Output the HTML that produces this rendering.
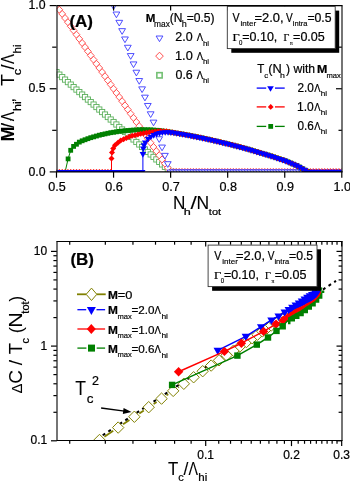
<!DOCTYPE html>
<html><head><meta charset="utf-8"><style>
html,body{margin:0;padding:0;background:#fff;}
body{width:350px;height:481px;position:relative;overflow:hidden;font-family:"Liberation Sans",sans-serif;}
text{font-kerning:none;stroke:#000;stroke-width:0.22px;}
svg{will-change:transform;}
</style></head><body>
<svg width="350" height="481" viewBox="0 0 350 481" style="position:absolute;left:0;top:0">
<defs>
<clipPath id="clipA"><rect x="56.5" y="5.6" width="285.3" height="166.3"/></clipPath>
<clipPath id="clipB"><rect x="56.8" y="241.5" width="285.2" height="199.1"/></clipPath>
</defs>
<g clip-path="url(#clipA)">
<rect x="53.9" y="69.52" width="5.2" height="5.2" fill="#fff" stroke="#5cb05c" stroke-width="0.9"/>
<rect x="56.75" y="72.01" width="5.2" height="5.2" fill="#fff" stroke="#5cb05c" stroke-width="0.9"/>
<rect x="59.61" y="74.51" width="5.2" height="5.2" fill="#fff" stroke="#5cb05c" stroke-width="0.9"/>
<rect x="62.46" y="77" width="5.2" height="5.2" fill="#fff" stroke="#5cb05c" stroke-width="0.9"/>
<rect x="65.31" y="79.5" width="5.2" height="5.2" fill="#fff" stroke="#5cb05c" stroke-width="0.9"/>
<rect x="68.17" y="81.99" width="5.2" height="5.2" fill="#fff" stroke="#5cb05c" stroke-width="0.9"/>
<rect x="71.02" y="84.49" width="5.2" height="5.2" fill="#fff" stroke="#5cb05c" stroke-width="0.9"/>
<rect x="73.87" y="86.98" width="5.2" height="5.2" fill="#fff" stroke="#5cb05c" stroke-width="0.9"/>
<rect x="76.72" y="89.48" width="5.2" height="5.2" fill="#fff" stroke="#5cb05c" stroke-width="0.9"/>
<rect x="79.58" y="91.97" width="5.2" height="5.2" fill="#fff" stroke="#5cb05c" stroke-width="0.9"/>
<rect x="82.43" y="94.47" width="5.2" height="5.2" fill="#fff" stroke="#5cb05c" stroke-width="0.9"/>
<rect x="85.28" y="96.96" width="5.2" height="5.2" fill="#fff" stroke="#5cb05c" stroke-width="0.9"/>
<rect x="88.14" y="99.45" width="5.2" height="5.2" fill="#fff" stroke="#5cb05c" stroke-width="0.9"/>
<rect x="90.99" y="101.95" width="5.2" height="5.2" fill="#fff" stroke="#5cb05c" stroke-width="0.9"/>
<rect x="93.84" y="104.44" width="5.2" height="5.2" fill="#fff" stroke="#5cb05c" stroke-width="0.9"/>
<rect x="96.69" y="106.94" width="5.2" height="5.2" fill="#fff" stroke="#5cb05c" stroke-width="0.9"/>
<rect x="99.55" y="109.43" width="5.2" height="5.2" fill="#fff" stroke="#5cb05c" stroke-width="0.9"/>
<rect x="102.4" y="111.93" width="5.2" height="5.2" fill="#fff" stroke="#5cb05c" stroke-width="0.9"/>
<rect x="105.25" y="114.42" width="5.2" height="5.2" fill="#fff" stroke="#5cb05c" stroke-width="0.9"/>
<rect x="108.11" y="116.92" width="5.2" height="5.2" fill="#fff" stroke="#5cb05c" stroke-width="0.9"/>
<rect x="110.96" y="119.41" width="5.2" height="5.2" fill="#fff" stroke="#5cb05c" stroke-width="0.9"/>
<rect x="113.81" y="121.9" width="5.2" height="5.2" fill="#fff" stroke="#5cb05c" stroke-width="0.9"/>
<rect x="116.67" y="124.4" width="5.2" height="5.2" fill="#fff" stroke="#5cb05c" stroke-width="0.9"/>
<rect x="119.52" y="126.89" width="5.2" height="5.2" fill="#fff" stroke="#5cb05c" stroke-width="0.9"/>
<rect x="122.37" y="129.39" width="5.2" height="5.2" fill="#fff" stroke="#5cb05c" stroke-width="0.9"/>
<rect x="125.23" y="131.88" width="5.2" height="5.2" fill="#fff" stroke="#5cb05c" stroke-width="0.9"/>
<rect x="128.08" y="134.38" width="5.2" height="5.2" fill="#fff" stroke="#5cb05c" stroke-width="0.9"/>
<rect x="130.93" y="136.87" width="5.2" height="5.2" fill="#fff" stroke="#5cb05c" stroke-width="0.9"/>
<rect x="133.78" y="139.37" width="5.2" height="5.2" fill="#fff" stroke="#5cb05c" stroke-width="0.9"/>
<rect x="136.64" y="141.86" width="5.2" height="5.2" fill="#fff" stroke="#5cb05c" stroke-width="0.9"/>
<rect x="139.49" y="144.36" width="5.2" height="5.2" fill="#fff" stroke="#5cb05c" stroke-width="0.9"/>
<rect x="142.34" y="146.85" width="5.2" height="5.2" fill="#fff" stroke="#5cb05c" stroke-width="0.9"/>
<rect x="145.2" y="149.34" width="5.2" height="5.2" fill="#fff" stroke="#5cb05c" stroke-width="0.9"/>
<rect x="148.05" y="151.84" width="5.2" height="5.2" fill="#fff" stroke="#5cb05c" stroke-width="0.9"/>
<rect x="150.9" y="154.33" width="5.2" height="5.2" fill="#fff" stroke="#5cb05c" stroke-width="0.9"/>
<rect x="153.76" y="156.83" width="5.2" height="5.2" fill="#fff" stroke="#5cb05c" stroke-width="0.9"/>
<rect x="156.61" y="159.32" width="5.2" height="5.2" fill="#fff" stroke="#5cb05c" stroke-width="0.9"/>
<rect x="159.46" y="161.82" width="5.2" height="5.2" fill="#fff" stroke="#5cb05c" stroke-width="0.9"/>
<rect x="162.31" y="164.31" width="5.2" height="5.2" fill="#fff" stroke="#5cb05c" stroke-width="0.9"/>
<rect x="165.17" y="166.81" width="5.2" height="5.2" fill="#fff" stroke="#5cb05c" stroke-width="0.9"/>
<rect x="168.02" y="169.3" width="5.2" height="5.2" fill="#fff" stroke="#5cb05c" stroke-width="0.9"/>
<rect x="170.87" y="169.3" width="5.2" height="5.2" fill="#fff" stroke="#5cb05c" stroke-width="0.9"/>
<polygon points="56.5,2.1 59.9,5.6 56.5,9.1 53.1,5.6" fill="#fff" stroke="#ff3a3a" stroke-width="0.85"/>
<polygon points="59.35,6.26 62.75,9.76 59.35,13.26 55.95,9.76" fill="#fff" stroke="#ff3a3a" stroke-width="0.85"/>
<polygon points="62.21,10.42 65.61,13.92 62.21,17.42 58.81,13.92" fill="#fff" stroke="#ff3a3a" stroke-width="0.85"/>
<polygon points="65.06,14.57 68.46,18.07 65.06,21.57 61.66,18.07" fill="#fff" stroke="#ff3a3a" stroke-width="0.85"/>
<polygon points="67.91,18.73 71.31,22.23 67.91,25.73 64.51,22.23" fill="#fff" stroke="#ff3a3a" stroke-width="0.85"/>
<polygon points="70.77,22.89 74.17,26.39 70.77,29.89 67.37,26.39" fill="#fff" stroke="#ff3a3a" stroke-width="0.85"/>
<polygon points="73.62,27.05 77.02,30.55 73.62,34.05 70.22,30.55" fill="#fff" stroke="#ff3a3a" stroke-width="0.85"/>
<polygon points="76.47,31.2 79.87,34.7 76.47,38.2 73.07,34.7" fill="#fff" stroke="#ff3a3a" stroke-width="0.85"/>
<polygon points="79.32,35.36 82.72,38.86 79.32,42.36 75.92,38.86" fill="#fff" stroke="#ff3a3a" stroke-width="0.85"/>
<polygon points="82.18,39.52 85.58,43.02 82.18,46.52 78.78,43.02" fill="#fff" stroke="#ff3a3a" stroke-width="0.85"/>
<polygon points="85.03,43.68 88.43,47.18 85.03,50.68 81.63,47.18" fill="#fff" stroke="#ff3a3a" stroke-width="0.85"/>
<polygon points="87.88,47.83 91.28,51.33 87.88,54.83 84.48,51.33" fill="#fff" stroke="#ff3a3a" stroke-width="0.85"/>
<polygon points="90.74,51.99 94.14,55.49 90.74,58.99 87.34,55.49" fill="#fff" stroke="#ff3a3a" stroke-width="0.85"/>
<polygon points="93.59,56.15 96.99,59.65 93.59,63.15 90.19,59.65" fill="#fff" stroke="#ff3a3a" stroke-width="0.85"/>
<polygon points="96.44,60.3 99.84,63.8 96.44,67.3 93.04,63.8" fill="#fff" stroke="#ff3a3a" stroke-width="0.85"/>
<polygon points="99.29,64.46 102.69,67.96 99.29,71.46 95.89,67.96" fill="#fff" stroke="#ff3a3a" stroke-width="0.85"/>
<polygon points="102.15,68.62 105.55,72.12 102.15,75.62 98.75,72.12" fill="#fff" stroke="#ff3a3a" stroke-width="0.85"/>
<polygon points="105,72.78 108.4,76.28 105,79.78 101.6,76.28" fill="#fff" stroke="#ff3a3a" stroke-width="0.85"/>
<polygon points="107.85,76.94 111.25,80.44 107.85,83.94 104.45,80.44" fill="#fff" stroke="#ff3a3a" stroke-width="0.85"/>
<polygon points="110.71,81.09 114.11,84.59 110.71,88.09 107.31,84.59" fill="#fff" stroke="#ff3a3a" stroke-width="0.85"/>
<polygon points="113.56,85.25 116.96,88.75 113.56,92.25 110.16,88.75" fill="#fff" stroke="#ff3a3a" stroke-width="0.85"/>
<polygon points="116.41,89.41 119.81,92.91 116.41,96.41 113.01,92.91" fill="#fff" stroke="#ff3a3a" stroke-width="0.85"/>
<polygon points="119.27,93.57 122.67,97.07 119.27,100.57 115.87,97.07" fill="#fff" stroke="#ff3a3a" stroke-width="0.85"/>
<polygon points="122.12,97.72 125.52,101.22 122.12,104.72 118.72,101.22" fill="#fff" stroke="#ff3a3a" stroke-width="0.85"/>
<polygon points="124.97,101.88 128.37,105.38 124.97,108.88 121.57,105.38" fill="#fff" stroke="#ff3a3a" stroke-width="0.85"/>
<polygon points="127.83,106.04 131.22,109.54 127.83,113.04 124.42,109.54" fill="#fff" stroke="#ff3a3a" stroke-width="0.85"/>
<polygon points="130.68,110.2 134.08,113.7 130.68,117.2 127.28,113.7" fill="#fff" stroke="#ff3a3a" stroke-width="0.85"/>
<polygon points="133.53,114.35 136.93,117.85 133.53,121.35 130.13,117.85" fill="#fff" stroke="#ff3a3a" stroke-width="0.85"/>
<polygon points="136.38,118.51 139.78,122.01 136.38,125.51 132.98,122.01" fill="#fff" stroke="#ff3a3a" stroke-width="0.85"/>
<polygon points="139.24,122.67 142.64,126.17 139.24,129.67 135.84,126.17" fill="#fff" stroke="#ff3a3a" stroke-width="0.85"/>
<polygon points="142.09,126.83 145.49,130.33 142.09,133.83 138.69,130.33" fill="#fff" stroke="#ff3a3a" stroke-width="0.85"/>
<polygon points="144.94,130.98 148.34,134.48 144.94,137.98 141.54,134.48" fill="#fff" stroke="#ff3a3a" stroke-width="0.85"/>
<polygon points="147.8,135.14 151.2,138.64 147.8,142.14 144.4,138.64" fill="#fff" stroke="#ff3a3a" stroke-width="0.85"/>
<polygon points="150.65,139.3 154.05,142.8 150.65,146.3 147.25,142.8" fill="#fff" stroke="#ff3a3a" stroke-width="0.85"/>
<polygon points="153.5,143.46 156.9,146.96 153.5,150.46 150.1,146.96" fill="#fff" stroke="#ff3a3a" stroke-width="0.85"/>
<polygon points="156.36,147.61 159.76,151.11 156.36,154.61 152.96,151.11" fill="#fff" stroke="#ff3a3a" stroke-width="0.85"/>
<polygon points="159.21,151.77 162.61,155.27 159.21,158.77 155.81,155.27" fill="#fff" stroke="#ff3a3a" stroke-width="0.85"/>
<polygon points="162.06,155.93 165.46,159.43 162.06,162.93 158.66,159.43" fill="#fff" stroke="#ff3a3a" stroke-width="0.85"/>
<polygon points="164.91,160.09 168.31,163.59 164.91,167.09 161.51,163.59" fill="#fff" stroke="#ff3a3a" stroke-width="0.85"/>
<polygon points="167.77,164.24 171.17,167.74 167.77,171.24 164.37,167.74" fill="#fff" stroke="#ff3a3a" stroke-width="0.85"/>
<polygon points="170.62,168.4 174.02,171.9 170.62,175.4 167.22,171.9" fill="#fff" stroke="#ff3a3a" stroke-width="0.85"/>
<polygon points="173.47,168.4 176.87,171.9 173.47,175.4 170.07,171.9" fill="#fff" stroke="#ff3a3a" stroke-width="0.85"/>
<polygon points="176.33,168.4 179.73,171.9 176.33,175.4 172.93,171.9" fill="#fff" stroke="#ff3a3a" stroke-width="0.85"/>
<polygon points="179.18,168.4 182.58,171.9 179.18,175.4 175.78,171.9" fill="#fff" stroke="#ff3a3a" stroke-width="0.85"/>
<polygon points="182.03,168.4 185.43,171.9 182.03,175.4 178.63,171.9" fill="#fff" stroke="#ff3a3a" stroke-width="0.85"/>
<polygon points="184.88,168.4 188.28,171.9 184.88,175.4 181.48,171.9" fill="#fff" stroke="#ff3a3a" stroke-width="0.85"/>
<polygon points="187.74,168.4 191.14,171.9 187.74,175.4 184.34,171.9" fill="#fff" stroke="#ff3a3a" stroke-width="0.85"/>
<polygon points="190.59,168.4 193.99,171.9 190.59,175.4 187.19,171.9" fill="#fff" stroke="#ff3a3a" stroke-width="0.85"/>
<polygon points="193.44,168.4 196.84,171.9 193.44,175.4 190.04,171.9" fill="#fff" stroke="#ff3a3a" stroke-width="0.85"/>
<polygon points="196.3,168.4 199.7,171.9 196.3,175.4 192.9,171.9" fill="#fff" stroke="#ff3a3a" stroke-width="0.85"/>
<polygon points="199.15,168.4 202.55,171.9 199.15,175.4 195.75,171.9" fill="#fff" stroke="#ff3a3a" stroke-width="0.85"/>
<polygon points="202,168.4 205.4,171.9 202,175.4 198.6,171.9" fill="#fff" stroke="#ff3a3a" stroke-width="0.85"/>
<polygon points="204.86,168.4 208.26,171.9 204.86,175.4 201.46,171.9" fill="#fff" stroke="#ff3a3a" stroke-width="0.85"/>
<polygon points="207.71,168.4 211.11,171.9 207.71,175.4 204.31,171.9" fill="#fff" stroke="#ff3a3a" stroke-width="0.85"/>
<polygon points="210.56,168.4 213.96,171.9 210.56,175.4 207.16,171.9" fill="#fff" stroke="#ff3a3a" stroke-width="0.85"/>
<polygon points="213.42,168.4 216.82,171.9 213.42,175.4 210.02,171.9" fill="#fff" stroke="#ff3a3a" stroke-width="0.85"/>
<polygon points="216.27,168.4 219.67,171.9 216.27,175.4 212.87,171.9" fill="#fff" stroke="#ff3a3a" stroke-width="0.85"/>
<polygon points="219.12,168.4 222.52,171.9 219.12,175.4 215.72,171.9" fill="#fff" stroke="#ff3a3a" stroke-width="0.85"/>
<polygon points="221.97,168.4 225.37,171.9 221.97,175.4 218.57,171.9" fill="#fff" stroke="#ff3a3a" stroke-width="0.85"/>
<polygon points="224.83,168.4 228.23,171.9 224.83,175.4 221.43,171.9" fill="#fff" stroke="#ff3a3a" stroke-width="0.85"/>
<polygon points="227.68,168.4 231.08,171.9 227.68,175.4 224.28,171.9" fill="#fff" stroke="#ff3a3a" stroke-width="0.85"/>
<polygon points="230.53,168.4 233.93,171.9 230.53,175.4 227.13,171.9" fill="#fff" stroke="#ff3a3a" stroke-width="0.85"/>
<polygon points="233.39,168.4 236.79,171.9 233.39,175.4 229.99,171.9" fill="#fff" stroke="#ff3a3a" stroke-width="0.85"/>
<polygon points="236.24,168.4 239.64,171.9 236.24,175.4 232.84,171.9" fill="#fff" stroke="#ff3a3a" stroke-width="0.85"/>
<polygon points="239.09,168.4 242.49,171.9 239.09,175.4 235.69,171.9" fill="#fff" stroke="#ff3a3a" stroke-width="0.85"/>
<polygon points="241.94,168.4 245.34,171.9 241.94,175.4 238.54,171.9" fill="#fff" stroke="#ff3a3a" stroke-width="0.85"/>
<polygon points="244.8,168.4 248.2,171.9 244.8,175.4 241.4,171.9" fill="#fff" stroke="#ff3a3a" stroke-width="0.85"/>
<polygon points="247.65,168.4 251.05,171.9 247.65,175.4 244.25,171.9" fill="#fff" stroke="#ff3a3a" stroke-width="0.85"/>
<polygon points="250.5,168.4 253.9,171.9 250.5,175.4 247.1,171.9" fill="#fff" stroke="#ff3a3a" stroke-width="0.85"/>
<polygon points="253.36,168.4 256.76,171.9 253.36,175.4 249.96,171.9" fill="#fff" stroke="#ff3a3a" stroke-width="0.85"/>
<polygon points="256.21,168.4 259.61,171.9 256.21,175.4 252.81,171.9" fill="#fff" stroke="#ff3a3a" stroke-width="0.85"/>
<polygon points="259.06,168.4 262.46,171.9 259.06,175.4 255.66,171.9" fill="#fff" stroke="#ff3a3a" stroke-width="0.85"/>
<polygon points="261.92,168.4 265.32,171.9 261.92,175.4 258.52,171.9" fill="#fff" stroke="#ff3a3a" stroke-width="0.85"/>
<polygon points="264.77,168.4 268.17,171.9 264.77,175.4 261.37,171.9" fill="#fff" stroke="#ff3a3a" stroke-width="0.85"/>
<polygon points="267.62,168.4 271.02,171.9 267.62,175.4 264.22,171.9" fill="#fff" stroke="#ff3a3a" stroke-width="0.85"/>
<polygon points="270.48,168.4 273.88,171.9 270.48,175.4 267.08,171.9" fill="#fff" stroke="#ff3a3a" stroke-width="0.85"/>
<polygon points="273.33,168.4 276.73,171.9 273.33,175.4 269.93,171.9" fill="#fff" stroke="#ff3a3a" stroke-width="0.85"/>
<polygon points="276.18,168.4 279.58,171.9 276.18,175.4 272.78,171.9" fill="#fff" stroke="#ff3a3a" stroke-width="0.85"/>
<polygon points="279.03,168.4 282.43,171.9 279.03,175.4 275.63,171.9" fill="#fff" stroke="#ff3a3a" stroke-width="0.85"/>
<polygon points="281.89,168.4 285.29,171.9 281.89,175.4 278.49,171.9" fill="#fff" stroke="#ff3a3a" stroke-width="0.85"/>
<polygon points="284.74,168.4 288.14,171.9 284.74,175.4 281.34,171.9" fill="#fff" stroke="#ff3a3a" stroke-width="0.85"/>
<polygon points="287.59,168.4 290.99,171.9 287.59,175.4 284.19,171.9" fill="#fff" stroke="#ff3a3a" stroke-width="0.85"/>
<polygon points="290.45,168.4 293.85,171.9 290.45,175.4 287.05,171.9" fill="#fff" stroke="#ff3a3a" stroke-width="0.85"/>
<polygon points="293.3,168.4 296.7,171.9 293.3,175.4 289.9,171.9" fill="#fff" stroke="#ff3a3a" stroke-width="0.85"/>
<polygon points="296.15,168.4 299.55,171.9 296.15,175.4 292.75,171.9" fill="#fff" stroke="#ff3a3a" stroke-width="0.85"/>
<polygon points="299,168.4 302.4,171.9 299,175.4 295.61,171.9" fill="#fff" stroke="#ff3a3a" stroke-width="0.85"/>
<polygon points="301.86,168.4 305.26,171.9 301.86,175.4 298.46,171.9" fill="#fff" stroke="#ff3a3a" stroke-width="0.85"/>
<polygon points="304.71,168.4 308.11,171.9 304.71,175.4 301.31,171.9" fill="#fff" stroke="#ff3a3a" stroke-width="0.85"/>
<polygon points="307.56,168.4 310.96,171.9 307.56,175.4 304.16,171.9" fill="#fff" stroke="#ff3a3a" stroke-width="0.85"/>
<polygon points="310.42,168.4 313.82,171.9 310.42,175.4 307.02,171.9" fill="#fff" stroke="#ff3a3a" stroke-width="0.85"/>
<polygon points="313.27,168.4 316.67,171.9 313.27,175.4 309.87,171.9" fill="#fff" stroke="#ff3a3a" stroke-width="0.85"/>
<polygon points="316.12,168.4 319.52,171.9 316.12,175.4 312.72,171.9" fill="#fff" stroke="#ff3a3a" stroke-width="0.85"/>
<polygon points="318.98,168.4 322.38,171.9 318.98,175.4 315.58,171.9" fill="#fff" stroke="#ff3a3a" stroke-width="0.85"/>
<polygon points="321.83,168.4 325.23,171.9 321.83,175.4 318.43,171.9" fill="#fff" stroke="#ff3a3a" stroke-width="0.85"/>
<polygon points="324.68,168.4 328.08,171.9 324.68,175.4 321.28,171.9" fill="#fff" stroke="#ff3a3a" stroke-width="0.85"/>
<polygon points="327.54,168.4 330.94,171.9 327.54,175.4 324.14,171.9" fill="#fff" stroke="#ff3a3a" stroke-width="0.85"/>
<polygon points="330.39,168.4 333.79,171.9 330.39,175.4 326.99,171.9" fill="#fff" stroke="#ff3a3a" stroke-width="0.85"/>
<polygon points="333.24,168.4 336.64,171.9 333.24,175.4 329.84,171.9" fill="#fff" stroke="#ff3a3a" stroke-width="0.85"/>
<polygon points="336.09,168.4 339.49,171.9 336.09,175.4 332.69,171.9" fill="#fff" stroke="#ff3a3a" stroke-width="0.85"/>
<polygon points="338.95,168.4 342.35,171.9 338.95,175.4 335.55,171.9" fill="#fff" stroke="#ff3a3a" stroke-width="0.85"/>
<polygon points="341.8,168.4 345.2,171.9 341.8,175.4 338.4,171.9" fill="#fff" stroke="#ff3a3a" stroke-width="0.85"/>
<polygon points="110.16,3.7 116.96,3.7 113.56,9.4" fill="#fff" stroke="#3a3aff" stroke-width="0.9"/>
<polygon points="113.01,12.02 119.81,12.02 116.41,17.72" fill="#fff" stroke="#3a3aff" stroke-width="0.9"/>
<polygon points="115.87,20.33 122.67,20.33 119.27,26.03" fill="#fff" stroke="#3a3aff" stroke-width="0.9"/>
<polygon points="118.72,28.65 125.52,28.65 122.12,34.35" fill="#fff" stroke="#3a3aff" stroke-width="0.9"/>
<polygon points="121.57,36.96 128.37,36.96 124.97,42.66" fill="#fff" stroke="#3a3aff" stroke-width="0.9"/>
<polygon points="124.42,45.28 131.22,45.28 127.83,50.98" fill="#fff" stroke="#3a3aff" stroke-width="0.9"/>
<polygon points="127.28,53.59 134.08,53.59 130.68,59.29" fill="#fff" stroke="#3a3aff" stroke-width="0.9"/>
<polygon points="130.13,61.91 136.93,61.91 133.53,67.61" fill="#fff" stroke="#3a3aff" stroke-width="0.9"/>
<polygon points="132.98,70.22 139.78,70.22 136.38,75.92" fill="#fff" stroke="#3a3aff" stroke-width="0.9"/>
<polygon points="135.84,78.54 142.64,78.54 139.24,84.24" fill="#fff" stroke="#3a3aff" stroke-width="0.9"/>
<polygon points="138.69,86.85 145.49,86.85 142.09,92.55" fill="#fff" stroke="#3a3aff" stroke-width="0.9"/>
<polygon points="141.54,95.17 148.34,95.17 144.94,100.87" fill="#fff" stroke="#3a3aff" stroke-width="0.9"/>
<polygon points="144.4,103.48 151.2,103.48 147.8,109.18" fill="#fff" stroke="#3a3aff" stroke-width="0.9"/>
<polygon points="147.25,111.8 154.05,111.8 150.65,117.5" fill="#fff" stroke="#3a3aff" stroke-width="0.9"/>
<polygon points="150.1,120.11 156.9,120.11 153.5,125.81" fill="#fff" stroke="#3a3aff" stroke-width="0.9"/>
<polygon points="152.96,128.43 159.76,128.43 156.36,134.13" fill="#fff" stroke="#3a3aff" stroke-width="0.9"/>
<polygon points="155.81,136.74 162.61,136.74 159.21,142.44" fill="#fff" stroke="#3a3aff" stroke-width="0.9"/>
<polygon points="158.66,145.06 165.46,145.06 162.06,150.76" fill="#fff" stroke="#3a3aff" stroke-width="0.9"/>
<polygon points="161.51,153.37 168.31,153.37 164.91,159.07" fill="#fff" stroke="#3a3aff" stroke-width="0.9"/>
<polygon points="164.37,161.69 171.17,161.69 167.77,167.39" fill="#fff" stroke="#3a3aff" stroke-width="0.9"/>
<polygon points="167.22,170 174.02,170 170.62,175.7" fill="#fff" stroke="#3a3aff" stroke-width="0.9"/>
<polygon points="170.07,170 176.87,170 173.47,175.7" fill="#fff" stroke="#3a3aff" stroke-width="0.9"/>
<polygon points="172.93,170 179.73,170 176.33,175.7" fill="#fff" stroke="#3a3aff" stroke-width="0.9"/>
<polygon points="175.78,170 182.58,170 179.18,175.7" fill="#fff" stroke="#3a3aff" stroke-width="0.9"/>
<polygon points="178.63,170 185.43,170 182.03,175.7" fill="#fff" stroke="#3a3aff" stroke-width="0.9"/>
<polygon points="181.48,170 188.28,170 184.88,175.7" fill="#fff" stroke="#3a3aff" stroke-width="0.9"/>
<polygon points="184.34,170 191.14,170 187.74,175.7" fill="#fff" stroke="#3a3aff" stroke-width="0.9"/>
<polygon points="187.19,170 193.99,170 190.59,175.7" fill="#fff" stroke="#3a3aff" stroke-width="0.9"/>
<polygon points="190.04,170 196.84,170 193.44,175.7" fill="#fff" stroke="#3a3aff" stroke-width="0.9"/>
<polygon points="192.9,170 199.7,170 196.3,175.7" fill="#fff" stroke="#3a3aff" stroke-width="0.9"/>
<polygon points="195.75,170 202.55,170 199.15,175.7" fill="#fff" stroke="#3a3aff" stroke-width="0.9"/>
<polygon points="198.6,170 205.4,170 202,175.7" fill="#fff" stroke="#3a3aff" stroke-width="0.9"/>
<polygon points="201.46,170 208.26,170 204.86,175.7" fill="#fff" stroke="#3a3aff" stroke-width="0.9"/>
<polygon points="204.31,170 211.11,170 207.71,175.7" fill="#fff" stroke="#3a3aff" stroke-width="0.9"/>
<polygon points="207.16,170 213.96,170 210.56,175.7" fill="#fff" stroke="#3a3aff" stroke-width="0.9"/>
<polygon points="210.02,170 216.82,170 213.42,175.7" fill="#fff" stroke="#3a3aff" stroke-width="0.9"/>
<polygon points="212.87,170 219.67,170 216.27,175.7" fill="#fff" stroke="#3a3aff" stroke-width="0.9"/>
<polygon points="215.72,170 222.52,170 219.12,175.7" fill="#fff" stroke="#3a3aff" stroke-width="0.9"/>
<polygon points="218.57,170 225.37,170 221.97,175.7" fill="#fff" stroke="#3a3aff" stroke-width="0.9"/>
<polygon points="221.43,170 228.23,170 224.83,175.7" fill="#fff" stroke="#3a3aff" stroke-width="0.9"/>
<polygon points="224.28,170 231.08,170 227.68,175.7" fill="#fff" stroke="#3a3aff" stroke-width="0.9"/>
<polygon points="227.13,170 233.93,170 230.53,175.7" fill="#fff" stroke="#3a3aff" stroke-width="0.9"/>
<polygon points="229.99,170 236.79,170 233.39,175.7" fill="#fff" stroke="#3a3aff" stroke-width="0.9"/>
<polygon points="232.84,170 239.64,170 236.24,175.7" fill="#fff" stroke="#3a3aff" stroke-width="0.9"/>
<polygon points="235.69,170 242.49,170 239.09,175.7" fill="#fff" stroke="#3a3aff" stroke-width="0.9"/>
<polygon points="238.54,170 245.34,170 241.94,175.7" fill="#fff" stroke="#3a3aff" stroke-width="0.9"/>
<polygon points="241.4,170 248.2,170 244.8,175.7" fill="#fff" stroke="#3a3aff" stroke-width="0.9"/>
<polygon points="244.25,170 251.05,170 247.65,175.7" fill="#fff" stroke="#3a3aff" stroke-width="0.9"/>
<polygon points="247.1,170 253.9,170 250.5,175.7" fill="#fff" stroke="#3a3aff" stroke-width="0.9"/>
<polygon points="249.96,170 256.76,170 253.36,175.7" fill="#fff" stroke="#3a3aff" stroke-width="0.9"/>
<polygon points="252.81,170 259.61,170 256.21,175.7" fill="#fff" stroke="#3a3aff" stroke-width="0.9"/>
<polygon points="255.66,170 262.46,170 259.06,175.7" fill="#fff" stroke="#3a3aff" stroke-width="0.9"/>
<polygon points="258.52,170 265.32,170 261.92,175.7" fill="#fff" stroke="#3a3aff" stroke-width="0.9"/>
<polygon points="261.37,170 268.17,170 264.77,175.7" fill="#fff" stroke="#3a3aff" stroke-width="0.9"/>
<polygon points="264.22,170 271.02,170 267.62,175.7" fill="#fff" stroke="#3a3aff" stroke-width="0.9"/>
<polygon points="267.08,170 273.88,170 270.48,175.7" fill="#fff" stroke="#3a3aff" stroke-width="0.9"/>
<polygon points="269.93,170 276.73,170 273.33,175.7" fill="#fff" stroke="#3a3aff" stroke-width="0.9"/>
<polygon points="272.78,170 279.58,170 276.18,175.7" fill="#fff" stroke="#3a3aff" stroke-width="0.9"/>
<polygon points="275.63,170 282.43,170 279.03,175.7" fill="#fff" stroke="#3a3aff" stroke-width="0.9"/>
<polygon points="278.49,170 285.29,170 281.89,175.7" fill="#fff" stroke="#3a3aff" stroke-width="0.9"/>
<polygon points="281.34,170 288.14,170 284.74,175.7" fill="#fff" stroke="#3a3aff" stroke-width="0.9"/>
<polygon points="284.19,170 290.99,170 287.59,175.7" fill="#fff" stroke="#3a3aff" stroke-width="0.9"/>
<polygon points="287.05,170 293.85,170 290.45,175.7" fill="#fff" stroke="#3a3aff" stroke-width="0.9"/>
<polygon points="289.9,170 296.7,170 293.3,175.7" fill="#fff" stroke="#3a3aff" stroke-width="0.9"/>
<polygon points="292.75,170 299.55,170 296.15,175.7" fill="#fff" stroke="#3a3aff" stroke-width="0.9"/>
<polygon points="295.61,170 302.4,170 299,175.7" fill="#fff" stroke="#3a3aff" stroke-width="0.9"/>
<polygon points="298.46,170 305.26,170 301.86,175.7" fill="#fff" stroke="#3a3aff" stroke-width="0.9"/>
<polygon points="301.31,170 308.11,170 304.71,175.7" fill="#fff" stroke="#3a3aff" stroke-width="0.9"/>
<polygon points="304.16,170 310.96,170 307.56,175.7" fill="#fff" stroke="#3a3aff" stroke-width="0.9"/>
<polygon points="307.02,170 313.82,170 310.42,175.7" fill="#fff" stroke="#3a3aff" stroke-width="0.9"/>
<polygon points="309.87,170 316.67,170 313.27,175.7" fill="#fff" stroke="#3a3aff" stroke-width="0.9"/>
<polygon points="312.72,170 319.52,170 316.12,175.7" fill="#fff" stroke="#3a3aff" stroke-width="0.9"/>
<polygon points="315.58,170 322.38,170 318.98,175.7" fill="#fff" stroke="#3a3aff" stroke-width="0.9"/>
<polygon points="318.43,170 325.23,170 321.83,175.7" fill="#fff" stroke="#3a3aff" stroke-width="0.9"/>
<polygon points="321.28,170 328.08,170 324.68,175.7" fill="#fff" stroke="#3a3aff" stroke-width="0.9"/>
<polygon points="324.14,170 330.94,170 327.54,175.7" fill="#fff" stroke="#3a3aff" stroke-width="0.9"/>
<polygon points="326.99,170 333.79,170 330.39,175.7" fill="#fff" stroke="#3a3aff" stroke-width="0.9"/>
<polygon points="329.84,170 336.64,170 333.24,175.7" fill="#fff" stroke="#3a3aff" stroke-width="0.9"/>
<polygon points="332.69,170 339.49,170 336.09,175.7" fill="#fff" stroke="#3a3aff" stroke-width="0.9"/>
<polygon points="335.55,170 342.35,170 338.95,175.7" fill="#fff" stroke="#3a3aff" stroke-width="0.9"/>
<polygon points="338.4,170 345.2,170 341.8,175.7" fill="#fff" stroke="#3a3aff" stroke-width="0.9"/>
<polyline points="54.5,171.9 65.1,171.9 68.1,158.9 70.7,150.3 73.6,146.4 80,141.6 90,137.9 100,135 110,132.8 120,131.3 130,130.3 140,129.7 150,129.8 160,130.6 170,132 185,134.5 200,137.4 215,140.7 230,144.3 245,148.2 255,151.2 270,155.6 285,160.6 297,165.6 308.3,171.9 343.8,171.9" fill="none" stroke="#008000" stroke-width="1.0" stroke-linejoin="round" />
<rect x="65.7" y="156.5" width="4.8" height="4.8" fill="#008000"/>
<rect x="68.3" y="147.9" width="4.8" height="4.8" fill="#008000"/>
<rect x="71.2" y="144" width="4.8" height="4.8" fill="#008000"/>
<rect x="74.06" y="141.86" width="4.8" height="4.8" fill="#008000"/>
<rect x="76.91" y="139.71" width="4.8" height="4.8" fill="#008000"/>
<rect x="79.77" y="138.4" width="4.8" height="4.8" fill="#008000"/>
<rect x="82.63" y="137.34" width="4.8" height="4.8" fill="#008000"/>
<rect x="85.48" y="136.28" width="4.8" height="4.8" fill="#008000"/>
<rect x="88.34" y="135.28" width="4.8" height="4.8" fill="#008000"/>
<rect x="91.2" y="134.46" width="4.8" height="4.8" fill="#008000"/>
<rect x="94.06" y="133.63" width="4.8" height="4.8" fill="#008000"/>
<rect x="96.91" y="132.8" width="4.8" height="4.8" fill="#008000"/>
<rect x="99.77" y="132.12" width="4.8" height="4.8" fill="#008000"/>
<rect x="102.63" y="131.49" width="4.8" height="4.8" fill="#008000"/>
<rect x="105.48" y="130.87" width="4.8" height="4.8" fill="#008000"/>
<rect x="108.34" y="130.29" width="4.8" height="4.8" fill="#008000"/>
<rect x="111.2" y="129.86" width="4.8" height="4.8" fill="#008000"/>
<rect x="114.05" y="129.43" width="4.8" height="4.8" fill="#008000"/>
<rect x="116.91" y="129" width="4.8" height="4.8" fill="#008000"/>
<rect x="119.77" y="128.68" width="4.8" height="4.8" fill="#008000"/>
<rect x="122.63" y="128.4" width="4.8" height="4.8" fill="#008000"/>
<rect x="125.48" y="128.11" width="4.8" height="4.8" fill="#008000"/>
<rect x="128.34" y="127.86" width="4.8" height="4.8" fill="#008000"/>
<rect x="131.2" y="127.68" width="4.8" height="4.8" fill="#008000"/>
<rect x="134.05" y="127.51" width="4.8" height="4.8" fill="#008000"/>
<rect x="136.91" y="127.34" width="4.8" height="4.8" fill="#008000"/>
<rect x="139.77" y="127.32" width="4.8" height="4.8" fill="#008000"/>
<rect x="142.62" y="127.35" width="4.8" height="4.8" fill="#008000"/>
<rect x="145.48" y="127.38" width="4.8" height="4.8" fill="#008000"/>
<rect x="148.34" y="127.46" width="4.8" height="4.8" fill="#008000"/>
<rect x="151.2" y="127.69" width="4.8" height="4.8" fill="#008000"/>
<rect x="154.05" y="127.92" width="4.8" height="4.8" fill="#008000"/>
<rect x="156.91" y="128.14" width="4.8" height="4.8" fill="#008000"/>
<rect x="159.77" y="128.5" width="4.8" height="4.8" fill="#008000"/>
<rect x="162.62" y="128.9" width="4.8" height="4.8" fill="#008000"/>
<rect x="165.48" y="129.3" width="4.8" height="4.8" fill="#008000"/>
<rect x="168.34" y="129.72" width="4.8" height="4.8" fill="#008000"/>
<rect x="171.19" y="130.2" width="4.8" height="4.8" fill="#008000"/>
<rect x="174.05" y="130.68" width="4.8" height="4.8" fill="#008000"/>
<rect x="176.91" y="131.15" width="4.8" height="4.8" fill="#008000"/>
<rect x="179.77" y="131.63" width="4.8" height="4.8" fill="#008000"/>
<rect x="182.62" y="132.1" width="4.8" height="4.8" fill="#008000"/>
<rect x="185.48" y="132.66" width="4.8" height="4.8" fill="#008000"/>
<rect x="188.34" y="133.21" width="4.8" height="4.8" fill="#008000"/>
<rect x="191.19" y="133.76" width="4.8" height="4.8" fill="#008000"/>
<rect x="194.05" y="134.31" width="4.8" height="4.8" fill="#008000"/>
<rect x="196.91" y="134.87" width="4.8" height="4.8" fill="#008000"/>
<rect x="199.76" y="135.48" width="4.8" height="4.8" fill="#008000"/>
<rect x="202.62" y="136.1" width="4.8" height="4.8" fill="#008000"/>
<rect x="205.48" y="136.73" width="4.8" height="4.8" fill="#008000"/>
<rect x="208.34" y="137.36" width="4.8" height="4.8" fill="#008000"/>
<rect x="211.19" y="137.99" width="4.8" height="4.8" fill="#008000"/>
<rect x="214.05" y="138.65" width="4.8" height="4.8" fill="#008000"/>
<rect x="216.91" y="139.33" width="4.8" height="4.8" fill="#008000"/>
<rect x="219.76" y="140.02" width="4.8" height="4.8" fill="#008000"/>
<rect x="222.62" y="140.71" width="4.8" height="4.8" fill="#008000"/>
<rect x="225.48" y="141.39" width="4.8" height="4.8" fill="#008000"/>
<rect x="228.33" y="142.09" width="4.8" height="4.8" fill="#008000"/>
<rect x="231.19" y="142.83" width="4.8" height="4.8" fill="#008000"/>
<rect x="234.05" y="143.58" width="4.8" height="4.8" fill="#008000"/>
<rect x="236.91" y="144.32" width="4.8" height="4.8" fill="#008000"/>
<rect x="239.76" y="145.06" width="4.8" height="4.8" fill="#008000"/>
<rect x="242.62" y="145.81" width="4.8" height="4.8" fill="#008000"/>
<rect x="245.48" y="146.66" width="4.8" height="4.8" fill="#008000"/>
<rect x="248.33" y="147.52" width="4.8" height="4.8" fill="#008000"/>
<rect x="251.19" y="148.38" width="4.8" height="4.8" fill="#008000"/>
<rect x="254.05" y="149.22" width="4.8" height="4.8" fill="#008000"/>
<rect x="256.91" y="150.06" width="4.8" height="4.8" fill="#008000"/>
<rect x="259.76" y="150.9" width="4.8" height="4.8" fill="#008000"/>
<rect x="262.62" y="151.74" width="4.8" height="4.8" fill="#008000"/>
<rect x="265.48" y="152.58" width="4.8" height="4.8" fill="#008000"/>
<rect x="268.33" y="153.44" width="4.8" height="4.8" fill="#008000"/>
<rect x="271.19" y="154.4" width="4.8" height="4.8" fill="#008000"/>
<rect x="274.05" y="155.35" width="4.8" height="4.8" fill="#008000"/>
<rect x="276.9" y="156.3" width="4.8" height="4.8" fill="#008000"/>
<rect x="279.76" y="157.25" width="4.8" height="4.8" fill="#008000"/>
<rect x="282.62" y="158.21" width="4.8" height="4.8" fill="#008000"/>
<rect x="285.48" y="159.4" width="4.8" height="4.8" fill="#008000"/>
<rect x="288.33" y="160.59" width="4.8" height="4.8" fill="#008000"/>
<rect x="291.19" y="161.78" width="4.8" height="4.8" fill="#008000"/>
<rect x="294.05" y="162.97" width="4.8" height="4.8" fill="#008000"/>
<rect x="296.9" y="164.48" width="4.8" height="4.8" fill="#008000"/>
<rect x="299.76" y="166.08" width="4.8" height="4.8" fill="#008000"/>
<rect x="302.62" y="167.67" width="4.8" height="4.8" fill="#008000"/>
<rect x="305.47" y="169.26" width="4.8" height="4.8" fill="#008000"/>
<polyline points="54.5,171.9 111.1,171.9 111.5,171.9 111.5,158.4 112,152.6 113.2,148.4 115,145.2 120,140.8 130,136.4 140,133.9 150,132.2 160,131 168,131.4 170,132 185,134.5 200,137.4 215,140.7 230,144.3 245,148.2 255,151.2 270,155.6 285,160.6 297,165.6 308.3,171.9 343.8,171.9" fill="none" stroke="#ff0000" stroke-width="1.0" stroke-linejoin="round" />
<polygon points="56.5,168.9 59.5,171.9 56.5,174.9 53.5,171.9" fill="#ff0000"/>
<polygon points="59.36,168.9 62.36,171.9 59.36,174.9 56.36,171.9" fill="#ff0000"/>
<polygon points="62.21,168.9 65.21,171.9 62.21,174.9 59.21,171.9" fill="#ff0000"/>
<polygon points="65.07,168.9 68.07,171.9 65.07,174.9 62.07,171.9" fill="#ff0000"/>
<polygon points="67.93,168.9 70.93,171.9 67.93,174.9 64.93,171.9" fill="#ff0000"/>
<polygon points="70.78,168.9 73.78,171.9 70.78,174.9 67.78,171.9" fill="#ff0000"/>
<polygon points="73.64,168.9 76.64,171.9 73.64,174.9 70.64,171.9" fill="#ff0000"/>
<polygon points="76.5,168.9 79.5,171.9 76.5,174.9 73.5,171.9" fill="#ff0000"/>
<polygon points="79.36,168.9 82.36,171.9 79.36,174.9 76.36,171.9" fill="#ff0000"/>
<polygon points="82.21,168.9 85.21,171.9 82.21,174.9 79.21,171.9" fill="#ff0000"/>
<polygon points="85.07,168.9 88.07,171.9 85.07,174.9 82.07,171.9" fill="#ff0000"/>
<polygon points="87.93,168.9 90.93,171.9 87.93,174.9 84.93,171.9" fill="#ff0000"/>
<polygon points="90.78,168.9 93.78,171.9 90.78,174.9 87.78,171.9" fill="#ff0000"/>
<polygon points="93.64,168.9 96.64,171.9 93.64,174.9 90.64,171.9" fill="#ff0000"/>
<polygon points="96.5,168.9 99.5,171.9 96.5,174.9 93.5,171.9" fill="#ff0000"/>
<polygon points="99.35,168.9 102.35,171.9 99.35,174.9 96.35,171.9" fill="#ff0000"/>
<polygon points="102.21,168.9 105.21,171.9 102.21,174.9 99.21,171.9" fill="#ff0000"/>
<polygon points="105.07,168.9 108.07,171.9 105.07,174.9 102.07,171.9" fill="#ff0000"/>
<polygon points="107.93,168.9 110.93,171.9 107.93,174.9 104.93,171.9" fill="#ff0000"/>
<polygon points="110.78,168.9 113.78,171.9 110.78,174.9 107.78,171.9" fill="#ff0000"/>
<polygon points="111.5,155.4 114.5,158.4 111.5,161.4 108.5,158.4" fill="#ff0000"/>
<polygon points="112,149.6 115,152.6 112,155.6 109,152.6" fill="#ff0000"/>
<polygon points="113.2,145.4 116.2,148.4 113.2,151.4 110.2,148.4" fill="#ff0000"/>
<polygon points="115,142.2 118,145.2 115,148.2 112,145.2" fill="#ff0000"/>
<polygon points="117.86,139.69 120.86,142.69 117.86,145.69 114.86,142.69" fill="#ff0000"/>
<polygon points="120.71,137.49 123.71,140.49 120.71,143.49 117.71,140.49" fill="#ff0000"/>
<polygon points="123.57,136.23 126.57,139.23 123.57,142.23 120.57,139.23" fill="#ff0000"/>
<polygon points="126.43,134.97 129.43,137.97 126.43,140.97 123.43,137.97" fill="#ff0000"/>
<polygon points="129.28,133.71 132.28,136.71 129.28,139.71 126.28,136.71" fill="#ff0000"/>
<polygon points="132.14,132.86 135.14,135.86 132.14,138.86 129.14,135.86" fill="#ff0000"/>
<polygon points="135,132.15 138,135.15 135,138.15 132,135.15" fill="#ff0000"/>
<polygon points="137.86,131.44 140.86,134.44 137.86,137.44 134.86,134.44" fill="#ff0000"/>
<polygon points="140.71,130.78 143.71,133.78 140.71,136.78 137.71,133.78" fill="#ff0000"/>
<polygon points="143.57,130.29 146.57,133.29 143.57,136.29 140.57,133.29" fill="#ff0000"/>
<polygon points="146.43,129.81 149.43,132.81 146.43,135.81 143.43,132.81" fill="#ff0000"/>
<polygon points="149.28,129.32 152.28,132.32 149.28,135.32 146.28,132.32" fill="#ff0000"/>
<polygon points="152.14,128.94 155.14,131.94 152.14,134.94 149.14,131.94" fill="#ff0000"/>
<polygon points="155,128.6 158,131.6 155,134.6 152,131.6" fill="#ff0000"/>
<polygon points="157.85,128.26 160.85,131.26 157.85,134.26 154.85,131.26" fill="#ff0000"/>
<polygon points="160.71,128.04 163.71,131.04 160.71,134.04 157.71,131.04" fill="#ff0000"/>
<polygon points="163.57,128.18 166.57,131.18 163.57,134.18 160.57,131.18" fill="#ff0000"/>
<polygon points="166.43,128.32 169.43,131.32 166.43,134.32 163.43,131.32" fill="#ff0000"/>
<polygon points="169.28,128.78 172.28,131.78 169.28,134.78 166.28,131.78" fill="#ff0000"/>
<polygon points="172.14,129.36 175.14,132.36 172.14,135.36 169.14,132.36" fill="#ff0000"/>
<polygon points="175,129.83 178,132.83 175,135.83 172,132.83" fill="#ff0000"/>
<polygon points="177.85,130.31 180.85,133.31 177.85,136.31 174.85,133.31" fill="#ff0000"/>
<polygon points="180.71,130.79 183.71,133.79 180.71,136.79 177.71,133.79" fill="#ff0000"/>
<polygon points="183.57,131.26 186.57,134.26 183.57,137.26 180.57,134.26" fill="#ff0000"/>
<polygon points="186.42,131.78 189.42,134.78 186.42,137.78 183.42,134.78" fill="#ff0000"/>
<polygon points="189.28,132.33 192.28,135.33 189.28,138.33 186.28,135.33" fill="#ff0000"/>
<polygon points="192.14,132.88 195.14,135.88 192.14,138.88 189.14,135.88" fill="#ff0000"/>
<polygon points="195,133.43 198,136.43 195,139.43 192,136.43" fill="#ff0000"/>
<polygon points="197.85,133.98 200.85,136.98 197.85,139.98 194.85,136.98" fill="#ff0000"/>
<polygon points="200.71,134.56 203.71,137.56 200.71,140.56 197.71,137.56" fill="#ff0000"/>
<polygon points="203.57,135.18 206.57,138.18 203.57,141.18 200.57,138.18" fill="#ff0000"/>
<polygon points="206.42,135.81 209.42,138.81 206.42,141.81 203.42,138.81" fill="#ff0000"/>
<polygon points="209.28,136.44 212.28,139.44 209.28,142.44 206.28,139.44" fill="#ff0000"/>
<polygon points="212.14,137.07 215.14,140.07 212.14,143.07 209.14,140.07" fill="#ff0000"/>
<polygon points="214.99,137.7 217.99,140.7 214.99,143.7 211.99,140.7" fill="#ff0000"/>
<polygon points="217.85,138.38 220.85,141.38 217.85,144.38 214.85,141.38" fill="#ff0000"/>
<polygon points="220.71,139.07 223.71,142.07 220.71,145.07 217.71,142.07" fill="#ff0000"/>
<polygon points="223.57,139.76 226.57,142.76 223.57,145.76 220.57,142.76" fill="#ff0000"/>
<polygon points="226.42,140.44 229.42,143.44 226.42,146.44 223.42,143.44" fill="#ff0000"/>
<polygon points="229.28,141.13 232.28,144.13 229.28,147.13 226.28,144.13" fill="#ff0000"/>
<polygon points="232.14,141.86 235.14,144.86 232.14,147.86 229.14,144.86" fill="#ff0000"/>
<polygon points="234.99,142.6 237.99,145.6 234.99,148.6 231.99,145.6" fill="#ff0000"/>
<polygon points="237.85,143.34 240.85,146.34 237.85,149.34 234.85,146.34" fill="#ff0000"/>
<polygon points="240.71,144.08 243.71,147.08 240.71,150.08 237.71,147.08" fill="#ff0000"/>
<polygon points="243.56,144.83 246.56,147.83 243.56,150.83 240.56,147.83" fill="#ff0000"/>
<polygon points="246.42,145.63 249.42,148.63 246.42,151.63 243.42,148.63" fill="#ff0000"/>
<polygon points="249.28,146.48 252.28,149.48 249.28,152.48 246.28,149.48" fill="#ff0000"/>
<polygon points="252.14,147.34 255.14,150.34 252.14,153.34 249.14,150.34" fill="#ff0000"/>
<polygon points="254.99,148.2 257.99,151.2 254.99,154.2 251.99,151.2" fill="#ff0000"/>
<polygon points="257.85,149.04 260.85,152.04 257.85,155.04 254.85,152.04" fill="#ff0000"/>
<polygon points="260.71,149.87 263.71,152.87 260.71,155.87 257.71,152.87" fill="#ff0000"/>
<polygon points="263.56,150.71 266.56,153.71 263.56,156.71 260.56,153.71" fill="#ff0000"/>
<polygon points="266.42,151.55 269.42,154.55 266.42,157.55 263.42,154.55" fill="#ff0000"/>
<polygon points="269.28,152.39 272.28,155.39 269.28,158.39 266.28,155.39" fill="#ff0000"/>
<polygon points="272.14,153.31 275.14,156.31 272.14,159.31 269.14,156.31" fill="#ff0000"/>
<polygon points="274.99,154.26 277.99,157.26 274.99,160.26 271.99,157.26" fill="#ff0000"/>
<polygon points="277.85,155.22 280.85,158.22 277.85,161.22 274.85,158.22" fill="#ff0000"/>
<polygon points="280.71,156.17 283.71,159.17 280.71,162.17 277.71,159.17" fill="#ff0000"/>
<polygon points="283.56,157.12 286.56,160.12 283.56,163.12 280.56,160.12" fill="#ff0000"/>
<polygon points="286.42,158.19 289.42,161.19 286.42,164.19 283.42,161.19" fill="#ff0000"/>
<polygon points="289.28,159.38 292.28,162.38 289.28,165.38 286.28,162.38" fill="#ff0000"/>
<polygon points="292.13,160.57 295.13,163.57 292.13,166.57 289.13,163.57" fill="#ff0000"/>
<polygon points="294.99,161.76 297.99,164.76 294.99,167.76 291.99,164.76" fill="#ff0000"/>
<polygon points="297.85,163.07 300.85,166.07 297.85,169.07 294.85,166.07" fill="#ff0000"/>
<polygon points="300.71,164.67 303.71,167.67 300.71,170.67 297.71,167.67" fill="#ff0000"/>
<polygon points="303.56,166.26 306.56,169.26 303.56,172.26 300.56,169.26" fill="#ff0000"/>
<polygon points="306.42,167.85 309.42,170.85 306.42,173.85 303.42,170.85" fill="#ff0000"/>
<polygon points="308.3,168.9 311.3,171.9 308.3,174.9 305.3,171.9" fill="#ff0000"/>
<polygon points="311.16,168.9 314.16,171.9 311.16,174.9 308.16,171.9" fill="#ff0000"/>
<polygon points="314.01,168.9 317.01,171.9 314.01,174.9 311.01,171.9" fill="#ff0000"/>
<polygon points="316.87,168.9 319.87,171.9 316.87,174.9 313.87,171.9" fill="#ff0000"/>
<polygon points="319.73,168.9 322.73,171.9 319.73,174.9 316.73,171.9" fill="#ff0000"/>
<polygon points="322.59,168.9 325.59,171.9 322.59,174.9 319.59,171.9" fill="#ff0000"/>
<polygon points="325.44,168.9 328.44,171.9 325.44,174.9 322.44,171.9" fill="#ff0000"/>
<polygon points="328.3,168.9 331.3,171.9 328.3,174.9 325.3,171.9" fill="#ff0000"/>
<polygon points="331.16,168.9 334.16,171.9 331.16,174.9 328.16,171.9" fill="#ff0000"/>
<polygon points="334.01,168.9 337.01,171.9 334.01,174.9 331.01,171.9" fill="#ff0000"/>
<polygon points="336.87,168.9 339.87,171.9 336.87,174.9 333.87,171.9" fill="#ff0000"/>
<polygon points="339.73,168.9 342.73,171.9 339.73,174.9 336.73,171.9" fill="#ff0000"/>
<polygon points="342.58,168.9 345.58,171.9 342.58,174.9 339.58,171.9" fill="#ff0000"/>
<polyline points="54.5,171.9 142.9,171.9 142.9,171.9 142.9,153.9 143.3,148.3 144,145 145.2,142.3 148,138.7 152,135.7 157,133.5 163,132.2 170,132 185,134.5 200,137.4 215,140.7 230,144.3 245,148.2 255,151.2 270,155.6 285,160.6 297,165.6 308.3,171.9 343.8,171.9" fill="none" stroke="#0000ff" stroke-width="1.0" stroke-linejoin="round" />
<polygon points="53.2,170.03 59.8,170.03 56.5,175.63" fill="#0000ff"/>
<polygon points="56.06,170.03 62.66,170.03 59.36,175.63" fill="#0000ff"/>
<polygon points="58.91,170.03 65.51,170.03 62.21,175.63" fill="#0000ff"/>
<polygon points="61.77,170.03 68.37,170.03 65.07,175.63" fill="#0000ff"/>
<polygon points="64.63,170.03 71.23,170.03 67.93,175.63" fill="#0000ff"/>
<polygon points="67.48,170.03 74.08,170.03 70.78,175.63" fill="#0000ff"/>
<polygon points="70.34,170.03 76.94,170.03 73.64,175.63" fill="#0000ff"/>
<polygon points="73.2,170.03 79.8,170.03 76.5,175.63" fill="#0000ff"/>
<polygon points="76.06,170.03 82.66,170.03 79.36,175.63" fill="#0000ff"/>
<polygon points="78.91,170.03 85.51,170.03 82.21,175.63" fill="#0000ff"/>
<polygon points="81.77,170.03 88.37,170.03 85.07,175.63" fill="#0000ff"/>
<polygon points="84.63,170.03 91.23,170.03 87.93,175.63" fill="#0000ff"/>
<polygon points="87.48,170.03 94.08,170.03 90.78,175.63" fill="#0000ff"/>
<polygon points="90.34,170.03 96.94,170.03 93.64,175.63" fill="#0000ff"/>
<polygon points="93.2,170.03 99.8,170.03 96.5,175.63" fill="#0000ff"/>
<polygon points="96.05,170.03 102.65,170.03 99.35,175.63" fill="#0000ff"/>
<polygon points="98.91,170.03 105.51,170.03 102.21,175.63" fill="#0000ff"/>
<polygon points="101.77,170.03 108.37,170.03 105.07,175.63" fill="#0000ff"/>
<polygon points="104.63,170.03 111.23,170.03 107.93,175.63" fill="#0000ff"/>
<polygon points="107.48,170.03 114.08,170.03 110.78,175.63" fill="#0000ff"/>
<polygon points="110.34,170.03 116.94,170.03 113.64,175.63" fill="#0000ff"/>
<polygon points="113.2,170.03 119.8,170.03 116.5,175.63" fill="#0000ff"/>
<polygon points="116.05,170.03 122.65,170.03 119.35,175.63" fill="#0000ff"/>
<polygon points="118.91,170.03 125.51,170.03 122.21,175.63" fill="#0000ff"/>
<polygon points="121.77,170.03 128.37,170.03 125.07,175.63" fill="#0000ff"/>
<polygon points="124.62,170.03 131.22,170.03 127.92,175.63" fill="#0000ff"/>
<polygon points="127.48,170.03 134.08,170.03 130.78,175.63" fill="#0000ff"/>
<polygon points="130.34,170.03 136.94,170.03 133.64,175.63" fill="#0000ff"/>
<polygon points="133.2,170.03 139.8,170.03 136.5,175.63" fill="#0000ff"/>
<polygon points="136.05,170.03 142.65,170.03 139.35,175.63" fill="#0000ff"/>
<polygon points="138.91,170.03 145.51,170.03 142.21,175.63" fill="#0000ff"/>
<polygon points="139.6,152.03 146.2,152.03 142.9,157.63" fill="#0000ff"/>
<polygon points="140,146.43 146.6,146.43 143.3,152.03" fill="#0000ff"/>
<polygon points="140.7,143.13 147.3,143.13 144,148.73" fill="#0000ff"/>
<polygon points="141.9,140.43 148.5,140.43 145.2,146.03" fill="#0000ff"/>
<polygon points="144.76,136.79 151.36,136.79 148.06,142.39" fill="#0000ff"/>
<polygon points="147.61,134.65 154.21,134.65 150.91,140.25" fill="#0000ff"/>
<polygon points="150.47,133.05 157.07,133.05 153.77,138.65" fill="#0000ff"/>
<polygon points="153.33,131.8 159.93,131.8 156.63,137.4" fill="#0000ff"/>
<polygon points="156.18,131.09 162.78,131.09 159.48,136.69" fill="#0000ff"/>
<polygon points="159.04,130.48 165.64,130.48 162.34,136.08" fill="#0000ff"/>
<polygon points="161.9,130.27 168.5,130.27 165.2,135.87" fill="#0000ff"/>
<polygon points="164.76,130.19 171.36,130.19 168.06,135.79" fill="#0000ff"/>
<polygon points="167.61,130.29 174.21,130.29 170.91,135.89" fill="#0000ff"/>
<polygon points="170.47,130.76 177.07,130.76 173.77,136.36" fill="#0000ff"/>
<polygon points="173.33,131.24 179.93,131.24 176.63,136.84" fill="#0000ff"/>
<polygon points="176.18,131.71 182.78,131.71 179.48,137.31" fill="#0000ff"/>
<polygon points="179.04,132.19 185.64,132.19 182.34,137.79" fill="#0000ff"/>
<polygon points="181.9,132.67 188.5,132.67 185.2,138.27" fill="#0000ff"/>
<polygon points="184.75,133.22 191.35,133.22 188.05,138.82" fill="#0000ff"/>
<polygon points="187.61,133.78 194.21,133.78 190.91,139.38" fill="#0000ff"/>
<polygon points="190.47,134.33 197.07,134.33 193.77,139.93" fill="#0000ff"/>
<polygon points="193.33,134.88 199.93,134.88 196.63,140.48" fill="#0000ff"/>
<polygon points="196.18,135.43 202.78,135.43 199.48,141.03" fill="#0000ff"/>
<polygon points="199.04,136.05 205.64,136.05 202.34,141.65" fill="#0000ff"/>
<polygon points="201.9,136.68 208.5,136.68 205.2,142.28" fill="#0000ff"/>
<polygon points="204.75,137.31 211.35,137.31 208.05,142.91" fill="#0000ff"/>
<polygon points="207.61,137.93 214.21,137.93 210.91,143.53" fill="#0000ff"/>
<polygon points="210.47,138.56 217.07,138.56 213.77,144.16" fill="#0000ff"/>
<polygon points="213.32,139.22 219.92,139.22 216.62,144.82" fill="#0000ff"/>
<polygon points="216.18,139.91 222.78,139.91 219.48,145.51" fill="#0000ff"/>
<polygon points="219.04,140.59 225.64,140.59 222.34,146.19" fill="#0000ff"/>
<polygon points="221.9,141.28 228.5,141.28 225.2,146.88" fill="#0000ff"/>
<polygon points="224.75,141.97 231.35,141.97 228.05,147.57" fill="#0000ff"/>
<polygon points="227.61,142.67 234.21,142.67 230.91,148.27" fill="#0000ff"/>
<polygon points="230.47,143.41 237.07,143.41 233.77,149.01" fill="#0000ff"/>
<polygon points="233.32,144.16 239.92,144.16 236.62,149.76" fill="#0000ff"/>
<polygon points="236.18,144.9 242.78,144.9 239.48,150.5" fill="#0000ff"/>
<polygon points="239.04,145.64 245.64,145.64 242.34,151.24" fill="#0000ff"/>
<polygon points="241.89,146.39 248.49,146.39 245.19,151.99" fill="#0000ff"/>
<polygon points="244.75,147.25 251.35,147.25 248.05,152.85" fill="#0000ff"/>
<polygon points="247.61,148.11 254.21,148.11 250.91,153.71" fill="#0000ff"/>
<polygon points="250.47,148.96 257.07,148.96 253.77,154.56" fill="#0000ff"/>
<polygon points="253.32,149.81 259.92,149.81 256.62,155.41" fill="#0000ff"/>
<polygon points="256.18,150.65 262.78,150.65 259.48,156.25" fill="#0000ff"/>
<polygon points="259.04,151.49 265.64,151.49 262.34,157.09" fill="#0000ff"/>
<polygon points="261.89,152.32 268.49,152.32 265.19,157.92" fill="#0000ff"/>
<polygon points="264.75,153.16 271.35,153.16 268.05,158.76" fill="#0000ff"/>
<polygon points="267.61,154.04 274.21,154.04 270.91,159.64" fill="#0000ff"/>
<polygon points="270.47,154.99 277.07,154.99 273.77,160.59" fill="#0000ff"/>
<polygon points="273.32,155.94 279.92,155.94 276.62,161.54" fill="#0000ff"/>
<polygon points="276.18,156.89 282.78,156.89 279.48,162.49" fill="#0000ff"/>
<polygon points="279.04,157.85 285.64,157.85 282.34,163.45" fill="#0000ff"/>
<polygon points="281.89,158.81 288.49,158.81 285.19,164.41" fill="#0000ff"/>
<polygon points="284.75,160 291.35,160 288.05,165.6" fill="#0000ff"/>
<polygon points="287.61,161.19 294.21,161.19 290.91,166.79" fill="#0000ff"/>
<polygon points="290.46,162.39 297.06,162.39 293.76,167.99" fill="#0000ff"/>
<polygon points="293.32,163.58 299.92,163.58 296.62,169.18" fill="#0000ff"/>
<polygon points="296.18,165.11 302.78,165.11 299.48,170.71" fill="#0000ff"/>
<polygon points="299.04,166.71 305.64,166.71 302.34,172.31" fill="#0000ff"/>
<polygon points="301.89,168.3 308.49,168.3 305.19,173.9" fill="#0000ff"/>
<polygon points="304.75,169.89 311.35,169.89 308.05,175.49" fill="#0000ff"/>
<polygon points="305,170.03 311.6,170.03 308.3,175.63" fill="#0000ff"/>
<polygon points="307.86,170.03 314.46,170.03 311.16,175.63" fill="#0000ff"/>
<polygon points="310.71,170.03 317.31,170.03 314.01,175.63" fill="#0000ff"/>
<polygon points="313.57,170.03 320.17,170.03 316.87,175.63" fill="#0000ff"/>
<polygon points="316.43,170.03 323.03,170.03 319.73,175.63" fill="#0000ff"/>
<polygon points="319.29,170.03 325.89,170.03 322.59,175.63" fill="#0000ff"/>
<polygon points="322.14,170.03 328.74,170.03 325.44,175.63" fill="#0000ff"/>
<polygon points="325,170.03 331.6,170.03 328.3,175.63" fill="#0000ff"/>
<polygon points="327.86,170.03 334.46,170.03 331.16,175.63" fill="#0000ff"/>
<polygon points="330.71,170.03 337.31,170.03 334.01,175.63" fill="#0000ff"/>
<polygon points="333.57,170.03 340.17,170.03 336.87,175.63" fill="#0000ff"/>
<polygon points="336.43,170.03 343.03,170.03 339.73,175.63" fill="#0000ff"/>
<polygon points="339.28,170.03 345.88,170.03 342.58,175.63" fill="#0000ff"/>
</g>
<line x1="57" y1="5.7" x2="57" y2="171.9" stroke="#2a2a2a" stroke-width="1.3" />
<line x1="342" y1="5.7" x2="342" y2="171.9" stroke="#2a2a2a" stroke-width="1.3" />
<line x1="56.4" y1="171.9" x2="342.6" y2="171.9" stroke="#000" stroke-width="1.2" />
<line x1="56.4" y1="5.7" x2="342.6" y2="5.7" stroke="#000" stroke-width="1.2" />
<line x1="56.5" y1="171.9" x2="56.5" y2="177.7" stroke="#000" stroke-width="1.2" />
<line x1="113.56" y1="171.9" x2="113.56" y2="177.7" stroke="#000" stroke-width="1.2" />
<line x1="113.56" y1="5.6" x2="113.56" y2="10.6" stroke="#000" stroke-width="1.2" />
<line x1="170.62" y1="171.9" x2="170.62" y2="177.7" stroke="#000" stroke-width="1.2" />
<line x1="170.62" y1="5.6" x2="170.62" y2="10.6" stroke="#000" stroke-width="1.2" />
<line x1="227.68" y1="171.9" x2="227.68" y2="177.7" stroke="#000" stroke-width="1.2" />
<line x1="227.68" y1="5.6" x2="227.68" y2="10.6" stroke="#000" stroke-width="1.2" />
<line x1="284.74" y1="171.9" x2="284.74" y2="177.7" stroke="#000" stroke-width="1.2" />
<line x1="284.74" y1="5.6" x2="284.74" y2="10.6" stroke="#000" stroke-width="1.2" />
<line x1="341.8" y1="171.9" x2="341.8" y2="177.7" stroke="#000" stroke-width="1.2" />
<line x1="49.7" y1="171.9" x2="56.5" y2="171.9" stroke="#000" stroke-width="1.2" />
<line x1="52.2" y1="130.32" x2="56.5" y2="130.32" stroke="#000" stroke-width="1.2" />
<line x1="338.5" y1="130.32" x2="341.8" y2="130.32" stroke="#000" stroke-width="1.2" />
<line x1="49.7" y1="88.75" x2="56.5" y2="88.75" stroke="#000" stroke-width="1.2" />
<line x1="336" y1="88.75" x2="341.8" y2="88.75" stroke="#000" stroke-width="1.2" />
<line x1="52.2" y1="47.17" x2="56.5" y2="47.17" stroke="#000" stroke-width="1.2" />
<line x1="338.5" y1="47.17" x2="341.8" y2="47.17" stroke="#000" stroke-width="1.2" />
<line x1="49.7" y1="5.6" x2="56.5" y2="5.6" stroke="#000" stroke-width="1.2" />
<text x="57" y="190.8" font-family="&quot;Liberation Sans&quot;, sans-serif" font-size="12.6" font-weight="normal" text-anchor="middle">0.5</text>
<text x="114.06" y="190.8" font-family="&quot;Liberation Sans&quot;, sans-serif" font-size="12.6" font-weight="normal" text-anchor="middle">0.6</text>
<text x="171.12" y="190.8" font-family="&quot;Liberation Sans&quot;, sans-serif" font-size="12.6" font-weight="normal" text-anchor="middle">0.7</text>
<text x="228.18" y="190.8" font-family="&quot;Liberation Sans&quot;, sans-serif" font-size="12.6" font-weight="normal" text-anchor="middle">0.8</text>
<text x="285.24" y="190.8" font-family="&quot;Liberation Sans&quot;, sans-serif" font-size="12.6" font-weight="normal" text-anchor="middle">0.9</text>
<text x="342.3" y="190.8" font-family="&quot;Liberation Sans&quot;, sans-serif" font-size="12.6" font-weight="normal" text-anchor="middle">1.0</text>
<text x="45.6" y="175.5" font-family="&quot;Liberation Sans&quot;, sans-serif" font-size="12.3" font-weight="normal" text-anchor="end">0.0</text>
<text x="45.6" y="92.35" font-family="&quot;Liberation Sans&quot;, sans-serif" font-size="12.3" font-weight="normal" text-anchor="end">0.5</text>
<text x="45.6" y="9.2" font-family="&quot;Liberation Sans&quot;, sans-serif" font-size="12.3" font-weight="normal" text-anchor="end">1.0</text>
<text x="69.40" y="27.10" font-family="&quot;Liberation Sans&quot;, sans-serif" font-size="17" font-weight="bold" fill="#000" style="white-space:pre">(A)</text>
<text x="145.75" y="22.30" font-family="&quot;Liberation Sans&quot;, sans-serif" font-size="11.8" font-weight="bold" fill="#000" style="white-space:pre" textLength="9.64" lengthAdjust="spacingAndGlyphs">M</text><text x="154.06" y="26.60" font-family="&quot;Liberation Sans&quot;, sans-serif" font-size="8.4" font-weight="normal" fill="#000" style="white-space:pre;stroke-width:0.16px" textLength="15.82" lengthAdjust="spacingAndGlyphs">max</text><text x="169.68" y="22.30" font-family="&quot;Liberation Sans&quot;, sans-serif" font-size="12" font-weight="normal" fill="#000" style="white-space:pre">(N</text><text x="181.87" y="26.60" font-family="&quot;Liberation Sans&quot;, sans-serif" font-size="8.4" font-weight="normal" fill="#000" style="white-space:pre;stroke-width:0.16px" textLength="5.03" lengthAdjust="spacingAndGlyphs">h</text><text x="186.70" y="22.30" font-family="&quot;Liberation Sans&quot;, sans-serif" font-size="12" font-weight="normal" fill="#000" style="white-space:pre" textLength="27.85" lengthAdjust="spacingAndGlyphs">=0.5)</text>
<polygon points="156.1,36.03 162.9,36.03 159.5,41.63" fill="none" stroke="#3a3aff" stroke-width="0.9"/>
<text x="175.38" y="41.40" font-family="&quot;Liberation Sans&quot;, sans-serif" font-size="12.4" font-weight="normal" fill="#000" style="white-space:pre" textLength="17.36" lengthAdjust="spacingAndGlyphs">2.0</text><text x="196.85" y="41.40" font-family="&quot;Liberation Sans&quot;, sans-serif" font-size="11.0" font-weight="normal" fill="#000" style="white-space:pre" textLength="6.38" lengthAdjust="spacingAndGlyphs">Λ</text><text x="202.94" y="46.00" font-family="&quot;Liberation Sans&quot;, sans-serif" font-size="7.6" font-weight="normal" fill="#000" style="white-space:pre;stroke-width:0.16px" textLength="6.20" lengthAdjust="spacingAndGlyphs">hi</text>
<polygon points="159.5,52.2 163.3,56.1 159.5,60 155.7,56.1" fill="none" stroke="#ff3a3a" stroke-width="0.9"/>
<text x="175.04" y="59.60" font-family="&quot;Liberation Sans&quot;, sans-serif" font-size="12.4" font-weight="normal" fill="#000" style="white-space:pre" textLength="17.70" lengthAdjust="spacingAndGlyphs">1.0</text><text x="196.85" y="59.60" font-family="&quot;Liberation Sans&quot;, sans-serif" font-size="11.0" font-weight="normal" fill="#000" style="white-space:pre" textLength="6.38" lengthAdjust="spacingAndGlyphs">Λ</text><text x="202.94" y="64.20" font-family="&quot;Liberation Sans&quot;, sans-serif" font-size="7.6" font-weight="normal" fill="#000" style="white-space:pre;stroke-width:0.16px" textLength="6.20" lengthAdjust="spacingAndGlyphs">hi</text>
<rect x="156.85" y="72.65" width="5.3" height="5.3" fill="none" stroke="#74c074" stroke-width="1.6"/>
<text x="175.50" y="78.80" font-family="&quot;Liberation Sans&quot;, sans-serif" font-size="12.4" font-weight="normal" fill="#000" style="white-space:pre" textLength="17.30" lengthAdjust="spacingAndGlyphs">0.6</text><text x="196.85" y="78.80" font-family="&quot;Liberation Sans&quot;, sans-serif" font-size="11.0" font-weight="normal" fill="#000" style="white-space:pre" textLength="6.38" lengthAdjust="spacingAndGlyphs">Λ</text><text x="202.94" y="83.40" font-family="&quot;Liberation Sans&quot;, sans-serif" font-size="7.6" font-weight="normal" fill="#000" style="white-space:pre;stroke-width:0.16px" textLength="6.20" lengthAdjust="spacingAndGlyphs">hi</text>
<rect x="231.3" y="10.6" width="107.9" height="42.2" fill="#000"/>
<rect x="227.3" y="6.4" width="107.9" height="42.2" fill="#fff" stroke="#333" stroke-width="0.9"/>
<text x="232.55" y="22.00" font-family="&quot;Liberation Sans&quot;, sans-serif" font-size="12.6" font-weight="normal" fill="#000" style="white-space:pre" textLength="7.13" lengthAdjust="spacingAndGlyphs">V</text><text x="240.58" y="26.20" font-family="&quot;Liberation Sans&quot;, sans-serif" font-size="7.8" font-weight="normal" fill="#000" style="white-space:pre;stroke-width:0.16px" textLength="15.69" lengthAdjust="spacingAndGlyphs">inter</text><text x="254.45" y="22.00" font-family="&quot;Liberation Sans&quot;, sans-serif" font-size="12.6" font-weight="normal" fill="#000" style="white-space:pre" textLength="29.07" lengthAdjust="spacingAndGlyphs">=2.0,</text><text x="286.05" y="22.00" font-family="&quot;Liberation Sans&quot;, sans-serif" font-size="12.6" font-weight="normal" fill="#000" style="white-space:pre" textLength="6.72" lengthAdjust="spacingAndGlyphs">V</text><text x="292.81" y="26.20" font-family="&quot;Liberation Sans&quot;, sans-serif" font-size="7.8" font-weight="normal" fill="#000" style="white-space:pre;stroke-width:0.16px" textLength="14.69" lengthAdjust="spacingAndGlyphs">intra</text><text x="307.39" y="22.00" font-family="&quot;Liberation Sans&quot;, sans-serif" font-size="12.6" font-weight="normal" fill="#000" style="white-space:pre" textLength="24.19" lengthAdjust="spacingAndGlyphs">=0.5</text>
<text x="232.53" y="40.90" font-family="&quot;Liberation Serif&quot;, serif" font-size="10.8" font-weight="normal" fill="#000" style="white-space:pre" textLength="7.18" lengthAdjust="spacingAndGlyphs">Γ</text><text x="239.06" y="45.10" font-family="&quot;Liberation Sans&quot;, sans-serif" font-size="6.8" font-weight="normal" fill="#000" style="white-space:pre;stroke-width:0.16px" textLength="3.36" lengthAdjust="spacingAndGlyphs">0</text><text x="242.28" y="40.90" font-family="&quot;Liberation Sans&quot;, sans-serif" font-size="12.6" font-weight="normal" fill="#000" style="white-space:pre" textLength="35.02" lengthAdjust="spacingAndGlyphs">=0.10,</text><text x="283.40" y="40.90" font-family="&quot;Liberation Serif&quot;, serif" font-size="10.8" font-weight="normal" fill="#000" style="white-space:pre" textLength="5.84" lengthAdjust="spacingAndGlyphs">Γ</text><text x="290.02" y="44.50" font-family="&quot;Liberation Serif&quot;, serif" font-size="6.0" font-weight="normal" fill="#000" style="white-space:pre;stroke-width:0.16px" textLength="2.76" lengthAdjust="spacingAndGlyphs">π</text><text x="293.07" y="40.90" font-family="&quot;Liberation Sans&quot;, sans-serif" font-size="12.6" font-weight="normal" fill="#000" style="white-space:pre" textLength="31.73" lengthAdjust="spacingAndGlyphs">=0.05</text>
<text x="257.37" y="72.90" font-family="&quot;Liberation Sans&quot;, sans-serif" font-size="12.8" font-weight="normal" fill="#000" style="white-space:pre" textLength="7.07" lengthAdjust="spacingAndGlyphs">T</text><text x="264.39" y="77.60" font-family="&quot;Liberation Sans&quot;, sans-serif" font-size="7.4" font-weight="normal" fill="#000" style="white-space:pre;stroke-width:0.16px" textLength="3.91" lengthAdjust="spacingAndGlyphs">c</text><text x="268.23" y="72.90" font-family="&quot;Liberation Sans&quot;, sans-serif" font-size="12.8" font-weight="normal" fill="#000" style="white-space:pre">(N</text><text x="280.08" y="77.60" font-family="&quot;Liberation Sans&quot;, sans-serif" font-size="7.4" font-weight="normal" fill="#000" style="white-space:pre;stroke-width:0.16px" textLength="4.90" lengthAdjust="spacingAndGlyphs">h</text><text x="286.04" y="72.90" font-family="&quot;Liberation Sans&quot;, sans-serif" font-size="12.6" font-weight="normal" fill="#000" style="white-space:pre" textLength="29.04" lengthAdjust="spacingAndGlyphs">) with</text><text x="317.09" y="72.90" font-family="&quot;Liberation Sans&quot;, sans-serif" font-size="11.0" font-weight="bold" fill="#000" style="white-space:pre" textLength="10.35" lengthAdjust="spacingAndGlyphs">M</text><text x="326.41" y="77.90" font-family="&quot;Liberation Sans&quot;, sans-serif" font-size="7.3" font-weight="normal" fill="#000" style="white-space:pre;stroke-width:0.16px" textLength="14.36" lengthAdjust="spacingAndGlyphs">max</text>
<line x1="256.7" y1="88.1" x2="266.2" y2="88.1" stroke="#0000ff" stroke-width="1.3" />
<line x1="275" y1="88.1" x2="284.7" y2="88.1" stroke="#0000ff" stroke-width="1.3" />
<polygon points="267.2,86.23 273.8,86.23 270.5,91.83" fill="#0000ff"/>
<text x="297.41" y="92.10" font-family="&quot;Liberation Sans&quot;, sans-serif" font-size="12.2" font-weight="normal" fill="#000" style="white-space:pre" textLength="16.40" lengthAdjust="spacingAndGlyphs">2.0</text><text x="314.25" y="92.10" font-family="&quot;Liberation Sans&quot;, sans-serif" font-size="10.8" font-weight="normal" fill="#000" style="white-space:pre" textLength="6.27" lengthAdjust="spacingAndGlyphs">Λ</text><text x="320.83" y="96.10" font-family="&quot;Liberation Sans&quot;, sans-serif" font-size="7.4" font-weight="normal" fill="#000" style="white-space:pre;stroke-width:0.16px" textLength="6.32" lengthAdjust="spacingAndGlyphs">hi</text>
<line x1="256.7" y1="106.9" x2="266.2" y2="106.9" stroke="#ff0000" stroke-width="1.3" />
<line x1="275" y1="106.9" x2="284.7" y2="106.9" stroke="#ff0000" stroke-width="1.3" />
<polygon points="270.7,104 273.6,106.9 270.7,109.8 267.8,106.9" fill="#ff0000"/>
<text x="297.10" y="110.90" font-family="&quot;Liberation Sans&quot;, sans-serif" font-size="12.2" font-weight="normal" fill="#000" style="white-space:pre" textLength="16.73" lengthAdjust="spacingAndGlyphs">1.0</text><text x="314.25" y="110.90" font-family="&quot;Liberation Sans&quot;, sans-serif" font-size="10.8" font-weight="normal" fill="#000" style="white-space:pre" textLength="6.27" lengthAdjust="spacingAndGlyphs">Λ</text><text x="320.83" y="114.90" font-family="&quot;Liberation Sans&quot;, sans-serif" font-size="7.4" font-weight="normal" fill="#000" style="white-space:pre;stroke-width:0.16px" textLength="6.32" lengthAdjust="spacingAndGlyphs">hi</text>
<line x1="256.7" y1="126.4" x2="266.2" y2="126.4" stroke="#008000" stroke-width="1.3" />
<line x1="275" y1="126.4" x2="284.7" y2="126.4" stroke="#008000" stroke-width="1.3" />
<rect x="268.3" y="124" width="4.8" height="4.8" fill="#008000"/>
<text x="297.53" y="130.40" font-family="&quot;Liberation Sans&quot;, sans-serif" font-size="12.2" font-weight="normal" fill="#000" style="white-space:pre" textLength="16.34" lengthAdjust="spacingAndGlyphs">0.6</text><text x="314.25" y="130.40" font-family="&quot;Liberation Sans&quot;, sans-serif" font-size="10.8" font-weight="normal" fill="#000" style="white-space:pre" textLength="6.27" lengthAdjust="spacingAndGlyphs">Λ</text><text x="320.83" y="134.40" font-family="&quot;Liberation Sans&quot;, sans-serif" font-size="7.4" font-weight="normal" fill="#000" style="white-space:pre;stroke-width:0.16px" textLength="6.32" lengthAdjust="spacingAndGlyphs">hi</text>
<text x="173.03" y="209.10" font-family="&quot;Liberation Sans&quot;, sans-serif" font-size="18" font-weight="normal" fill="#000" style="white-space:pre;stroke-width:0.08px" textLength="12.38" lengthAdjust="spacingAndGlyphs">N</text><text x="183.72" y="214.60" font-family="&quot;Liberation Sans&quot;, sans-serif" font-size="9.6" font-weight="normal" fill="#000" style="white-space:pre" textLength="7.02" lengthAdjust="spacingAndGlyphs">h</text><text x="190.40" y="209.10" font-family="&quot;Liberation Sans&quot;, sans-serif" font-size="18" font-weight="normal" fill="#000" style="white-space:pre;stroke-width:0.08px" textLength="6.35" lengthAdjust="spacingAndGlyphs">/</text><text x="196.60" y="209.10" font-family="&quot;Liberation Sans&quot;, sans-serif" font-size="18" font-weight="normal" fill="#000" style="white-space:pre;stroke-width:0.08px" textLength="12.64" lengthAdjust="spacingAndGlyphs">N</text><text x="208.83" y="214.60" font-family="&quot;Liberation Sans&quot;, sans-serif" font-size="9.8" font-weight="normal" fill="#000" style="white-space:pre" textLength="12.24" lengthAdjust="spacingAndGlyphs">tot</text>
<g transform="translate(14.3,141) rotate(-90)">
<text x="-0.47" y="0.00" font-family="&quot;Liberation Sans&quot;, sans-serif" font-size="18" font-weight="bold" fill="#000" style="white-space:pre;stroke-width:0.08px">M</text><text x="13.10" y="0.00" font-family="&quot;Liberation Sans&quot;, sans-serif" font-size="18" font-weight="normal" fill="#000" style="white-space:pre;stroke-width:0.08px">/</text><text x="19.73" y="0.00" font-family="&quot;Liberation Sans&quot;, sans-serif" font-size="18" font-weight="normal" fill="#000" style="white-space:pre;stroke-width:0.08px" textLength="9.51" lengthAdjust="spacingAndGlyphs">Λ</text><text x="30.12" y="6.80" font-family="&quot;Liberation Sans&quot;, sans-serif" font-size="11.5" font-weight="normal" fill="#000" style="white-space:pre" textLength="9.73" lengthAdjust="spacingAndGlyphs">hi</text><text x="38.70" y="0.00" font-family="&quot;Liberation Sans&quot;, sans-serif" font-size="14.5" font-weight="normal" fill="#000" style="white-space:pre">,</text><text x="54.91" y="0.00" font-family="&quot;Liberation Sans&quot;, sans-serif" font-size="18" font-weight="normal" fill="#000" style="white-space:pre;stroke-width:0.08px" textLength="11.79" lengthAdjust="spacingAndGlyphs">T</text><text x="65.79" y="6.80" font-family="&quot;Liberation Sans&quot;, sans-serif" font-size="11.5" font-weight="normal" fill="#000" style="white-space:pre" textLength="6.44" lengthAdjust="spacingAndGlyphs">c</text><text x="71.60" y="0.00" font-family="&quot;Liberation Sans&quot;, sans-serif" font-size="18" font-weight="normal" fill="#000" style="white-space:pre;stroke-width:0.08px">/</text><text x="76.93" y="0.00" font-family="&quot;Liberation Sans&quot;, sans-serif" font-size="18" font-weight="normal" fill="#000" style="white-space:pre;stroke-width:0.08px" textLength="9.92" lengthAdjust="spacingAndGlyphs">Λ</text><text x="87.58" y="6.80" font-family="&quot;Liberation Sans&quot;, sans-serif" font-size="11.5" font-weight="normal" fill="#000" style="white-space:pre" textLength="9.12" lengthAdjust="spacingAndGlyphs">hi</text>
</g>
<g clip-path="url(#clipB)">
<line x1="104.42" y1="436.73" x2="113.24" y2="430.84" stroke="#808000" stroke-width="1.8" />
<line x1="123.08" y1="424.29" x2="129.46" y2="420.03" stroke="#808000" stroke-width="1.8" />
<line x1="139.29" y1="413.48" x2="143.79" y2="410.48" stroke="#808000" stroke-width="1.8" />
<line x1="153.63" y1="403.92" x2="156.64" y2="401.92" stroke="#808000" stroke-width="1.8" />
<line x1="166.47" y1="395.36" x2="168.27" y2="394.16" stroke="#808000" stroke-width="1.8" />
<line x1="178.11" y1="387.6" x2="178.91" y2="387.07" stroke="#808000" stroke-width="1.8" />
<line x1="102" y1="435.7" x2="336" y2="280.9" stroke="#000" stroke-width="2.0" stroke-dasharray="3.0 3.77" stroke-dashoffset="5.93"/>
<polygon points="99.5,434.31 105.2,440.01 99.5,445.71 93.8,440.01" fill="#fff" stroke="#808000" stroke-width="1.0"/>
<polygon points="118.16,421.87 123.86,427.57 118.16,433.27 112.46,427.57" fill="#fff" stroke="#808000" stroke-width="1.0"/>
<polygon points="134.37,411.06 140.07,416.76 134.37,422.46 128.67,416.76" fill="#fff" stroke="#808000" stroke-width="1.0"/>
<polygon points="148.71,401.5 154.41,407.2 148.71,412.9 143.01,407.2" fill="#fff" stroke="#808000" stroke-width="1.0"/>
<polygon points="161.55,392.94 167.25,398.64 161.55,404.34 155.85,398.64" fill="#fff" stroke="#808000" stroke-width="1.0"/>
<polygon points="173.19,385.18 178.89,390.88 173.19,396.58 167.49,390.88" fill="#fff" stroke="#808000" stroke-width="1.0"/>
<polygon points="183.82,378.09 189.52,383.79 183.82,389.49 178.12,383.79" fill="#fff" stroke="#808000" stroke-width="1.0"/>
<polygon points="193.62,371.56 199.32,377.26 193.62,382.96 187.92,377.26" fill="#fff" stroke="#808000" stroke-width="1.0"/>
<polygon points="202.69,365.51 208.39,371.21 202.69,376.91 196.99,371.21" fill="#fff" stroke="#808000" stroke-width="1.0"/>
<polygon points="211.15,359.87 216.85,365.57 211.15,371.27 205.45,365.57" fill="#fff" stroke="#808000" stroke-width="1.0"/>
<polygon points="219.06,354.6 224.76,360.3 219.06,366 213.36,360.3" fill="#fff" stroke="#808000" stroke-width="1.0"/>
<polygon points="226.5,349.64 232.2,355.34 226.5,361.04 220.8,355.34" fill="#fff" stroke="#808000" stroke-width="1.0"/>
<polygon points="233.52,344.96 239.22,350.66 233.52,356.36 227.82,350.66" fill="#fff" stroke="#808000" stroke-width="1.0"/>
<polygon points="240.16,340.53 245.86,346.23 240.16,351.93 234.46,346.23" fill="#fff" stroke="#808000" stroke-width="1.0"/>
<polygon points="246.4,336.37 252.1,342.07 246.4,347.77 240.7,342.07" fill="#fff" stroke="#808000" stroke-width="1.0"/>
<polygon points="252.15,332.54 257.85,338.24 252.15,343.94 246.45,338.24" fill="#fff" stroke="#808000" stroke-width="1.0"/>
<polygon points="257.47,328.99 263.17,334.69 257.47,340.39 251.77,334.69" fill="#fff" stroke="#808000" stroke-width="1.0"/>
<polygon points="262.39,325.71 268.09,331.41 262.39,337.11 256.69,331.41" fill="#fff" stroke="#808000" stroke-width="1.0"/>
<polygon points="266.96,322.66 272.66,328.36 266.96,334.06 261.26,328.36" fill="#fff" stroke="#808000" stroke-width="1.0"/>
<polygon points="271.22,319.82 276.92,325.52 271.22,331.22 265.52,325.52" fill="#fff" stroke="#808000" stroke-width="1.0"/>
<polygon points="275.18,317.18 280.88,322.88 275.18,328.58 269.48,322.88" fill="#fff" stroke="#808000" stroke-width="1.0"/>
<polygon points="278.88,314.72 284.58,320.42 278.88,326.12 273.18,320.42" fill="#fff" stroke="#808000" stroke-width="1.0"/>
<polygon points="282.33,312.41 288.03,318.11 282.33,323.81 276.63,318.11" fill="#fff" stroke="#808000" stroke-width="1.0"/>
<polygon points="285.56,310.26 291.26,315.96 285.56,321.66 279.86,315.96" fill="#fff" stroke="#808000" stroke-width="1.0"/>
<polygon points="288.58,308.25 294.28,313.95 288.58,319.65 282.88,313.95" fill="#fff" stroke="#808000" stroke-width="1.0"/>
<polygon points="291.4,306.37 297.1,312.07 291.4,317.77 285.7,312.07" fill="#fff" stroke="#808000" stroke-width="1.0"/>
<polygon points="294.04,304.61 299.74,310.31 294.04,316.01 288.34,310.31" fill="#fff" stroke="#808000" stroke-width="1.0"/>
<polygon points="296.51,302.96 302.21,308.66 296.51,314.36 290.81,308.66" fill="#fff" stroke="#808000" stroke-width="1.0"/>
<polygon points="298.82,301.42 304.52,307.12 298.82,312.82 293.12,307.12" fill="#fff" stroke="#808000" stroke-width="1.0"/>
<polygon points="300.99,299.98 306.69,305.68 300.99,311.38 295.29,305.68" fill="#fff" stroke="#808000" stroke-width="1.0"/>
<polygon points="303.01,298.63 308.71,304.33 303.01,310.03 297.31,304.33" fill="#fff" stroke="#808000" stroke-width="1.0"/>
<polygon points="304.89,297.37 310.59,303.07 304.89,308.77 299.19,303.07" fill="#fff" stroke="#808000" stroke-width="1.0"/>
<polygon points="306.66,296.2 312.36,301.9 306.66,307.6 300.96,301.9" fill="#fff" stroke="#808000" stroke-width="1.0"/>
<polygon points="308.3,295.1 314,300.8 308.3,306.5 302.6,300.8" fill="#fff" stroke="#808000" stroke-width="1.0"/>
<polygon points="309.83,294.08 315.53,299.78 309.83,305.48 304.13,299.78" fill="#fff" stroke="#808000" stroke-width="1.0"/>
<polygon points="311.25,293.13 316.95,298.83 311.25,304.53 305.55,298.83" fill="#fff" stroke="#808000" stroke-width="1.0"/>
<polygon points="312.57,292.25 318.27,297.95 312.57,303.65 306.87,297.95" fill="#fff" stroke="#808000" stroke-width="1.0"/>
<polygon points="313.79,291.44 319.49,297.14 313.79,302.84 308.09,297.14" fill="#fff" stroke="#808000" stroke-width="1.0"/>
<polygon points="314.92,290.69 320.62,296.39 314.92,302.09 309.22,296.39" fill="#fff" stroke="#808000" stroke-width="1.0"/>
<polygon points="315.96,289.99 321.66,295.69 315.96,301.39 310.26,295.69" fill="#fff" stroke="#808000" stroke-width="1.0"/>
<polyline points="217.8,350.3 245.9,336.3 261.2,326.7 271.5,319.97 278.7,315.97 284.8,312.07 288.8,309.47 292.4,307.11 295.8,304.9 299,302.88 302,301 304.8,299.09 307.4,297.31 309.9,295.66 312.3,294.43 314.6,293.9 316.8,293.66" fill="none" stroke="#0000ff" stroke-width="1.5" stroke-linejoin="round" />
<polygon points="213.55,347.83 222.05,347.83 217.8,355.23" fill="#0000ff"/>
<polygon points="241.65,333.83 250.15,333.83 245.9,341.23" fill="#0000ff"/>
<polygon points="256.95,324.23 265.45,324.23 261.2,331.63" fill="#0000ff"/>
<polygon points="267.25,317.5 275.75,317.5 271.5,324.9" fill="#0000ff"/>
<polygon points="274.45,313.5 282.95,313.5 278.7,320.9" fill="#0000ff"/>
<polygon points="280.55,309.6 289.05,309.6 284.8,317" fill="#0000ff"/>
<polygon points="284.55,307.01 293.05,307.01 288.8,314.41" fill="#0000ff"/>
<polygon points="288.15,304.64 296.65,304.64 292.4,312.04" fill="#0000ff"/>
<polygon points="291.55,302.43 300.05,302.43 295.8,309.83" fill="#0000ff"/>
<polygon points="294.75,300.42 303.25,300.42 299,307.82" fill="#0000ff"/>
<polygon points="297.75,298.53 306.25,298.53 302,305.93" fill="#0000ff"/>
<polygon points="300.55,296.62 309.05,296.62 304.8,304.02" fill="#0000ff"/>
<polygon points="303.15,294.84 311.65,294.84 307.4,302.24" fill="#0000ff"/>
<polygon points="305.65,293.2 314.15,293.2 309.9,300.6" fill="#0000ff"/>
<polygon points="308.05,291.96 316.55,291.96 312.3,299.36" fill="#0000ff"/>
<polygon points="310.35,291.43 318.85,291.43 314.6,298.83" fill="#0000ff"/>
<polygon points="312.55,291.2 321.05,291.2 316.8,298.6" fill="#0000ff"/>
<polyline points="178.6,371.7 224.4,351.4 241.4,343.2 263.6,331.4 276,324.1 283.3,320.2 287.8,317.6" fill="none" stroke="#ff0000" stroke-width="1.5" stroke-linejoin="round" />
<polygon points="178.6,367 183.3,371.7 178.6,376.4 173.9,371.7" fill="#ff0000"/>
<polygon points="224.4,346.7 229.1,351.4 224.4,356.1 219.7,351.4" fill="#ff0000"/>
<polygon points="241.4,338.5 246.1,343.2 241.4,347.9 236.7,343.2" fill="#ff0000"/>
<polygon points="263.6,326.7 268.3,331.4 263.6,336.1 258.9,331.4" fill="#ff0000"/>
<polygon points="276,319.4 280.7,324.1 276,328.8 271.3,324.1" fill="#ff0000"/>
<polygon points="283.3,315.5 288,320.2 283.3,324.9 278.6,320.2" fill="#ff0000"/>
<polygon points="287.8,312.9 292.5,317.6 287.8,322.3 283.1,317.6" fill="#ff0000"/>
<polyline points="172.1,384.9 237.4,355.6 256.8,344.6 268,337.5 276.5,330.9 282.7,326.3 287.5,320.87 292.3,318 297,315.51 301.6,312.33 306,309.03 310.2,305.46 314,301.76 317.5,298.04 320.4,293.37 321.6,287.4" fill="none" stroke="#008000" stroke-width="1.5" stroke-linejoin="round" />
<rect x="168.9" y="381.7" width="6.4" height="6.4" fill="#008000"/>
<rect x="234.2" y="352.4" width="6.4" height="6.4" fill="#008000"/>
<rect x="253.6" y="341.4" width="6.4" height="6.4" fill="#008000"/>
<rect x="264.8" y="334.3" width="6.4" height="6.4" fill="#008000"/>
<rect x="273.3" y="327.7" width="6.4" height="6.4" fill="#008000"/>
<rect x="279.5" y="323.1" width="6.4" height="6.4" fill="#008000"/>
<polygon points="288,309.82 289,309.17 290,308.51 291,307.86 292,307.2 293,306.55 294,305.9 295,305.25 296,304.6 297,303.97 298,303.34 299,302.71 300,302.08 301,301.45 302,300.83 303,300.15 304,299.47 305,298.78 306,298.1 307,297.41 308,296.73 309,296.04 310,295.44 311,294.93 312,294.41 313,293.9 314,293.79 315,293.69 316,293.58 317,293.47 318,293.37 319,293.26 320,293.15 320,292.77 319,294.31 318,295.66 317,297.01 316,298.36 315,299.12 314,299.82 313,300.51 312,301.16 311,301.69 310,302.23 309,302.76 308,303.29 307,303.82 306,304.36 305,304.89 304,305.42 303,305.95 302,306.43 301,306.92 300,307.4 299,307.88 298,308.37 297,308.85 296,309.33 295,309.82 294,310.3 293,311.03 292,311.77 291,312.5 290,313.23 289,313.97 288,314.7" fill="#0000ff"/>
<rect x="312" y="290.2" width="8.6" height="4" fill="#0000ff"/>
<polygon points="290.5,312 294.1,315.6 286.9,315.6" fill="#ff0000"/>
<polygon points="293.6,310.3 297.2,313.9 290,313.9" fill="#ff0000"/>
<polygon points="297,308.6 300.6,312.2 293.4,312.2" fill="#ff0000"/>
<polygon points="300.1,306.9 303.7,310.5 296.5,310.5" fill="#ff0000"/>
<polygon points="302.7,306 306.3,309.6 299.1,309.6" fill="#ff0000"/>
<polygon points="305.6,305 309.2,308.6 302,308.6" fill="#ff0000"/>
<polygon points="288,314.2 289,313.47 290,312.73 291,312 292,311.27 293,310.53 294,309.8 295,309.32 296,308.83 297,308.35 298,307.87 299,307.38 300,306.9 301,306.42 302,305.93 303,305.45 304,304.92 305,304.39 306,303.86 307,303.32 308,302.79 309,302.26 310,301.73 311,301.19 312,300.66 313,300.01 314,299.32 315,298.62 316,297.86 317,296.51 318,295.16 319,293.81 320,292.27 321,290.8 321,293.55 320,295.66 319,297.17 318,298.27 317,299.38 316,300.49 315,301.6 314,302.22 313,302.84 312,303.46 311,304.08 310,304.7 309,305.34 308,305.98 307,306.62 306,307.26 305,307.9 304,308.64 303,309.38 302,310.12 301,310.86 300,311.6 299,312.1 298,312.6 297,313.1 296,313.6 295,314.1 294,314.67 293,315.24 292,315.81 291,316.39 290,316.96 289,317.53 288,318.1" fill="#ff0000"/>
<polygon points="288,317.6 289,317.03 290,316.46 291,315.89 292,315.31 293,314.74 294,314.17 295,313.6 296,313.1 297,312.6 298,312.1 299,311.6 300,311.1 301,310.36 302,309.62 303,308.88 304,308.14 305,307.4 306,306.76 307,306.12 308,305.48 309,304.84 310,304.2 311,303.58 312,302.96 313,302.34 314,301.72 315,301.1 316,299.99 317,298.88 318,297.77 319,296.67 320,295.16 321,293.05 322,290.6 324.3,290.6 324.3,293.05 322.4,293.05 322.4,298.71 319.3,298.71 319.3,302.73 315.8,302.73 315.8,306.45 312,306.45 312,309.85 308,309.85 308,313.25 303.8,313.25 303.8,316.22 299.5,316.22 299.5,319.08 295,319.08 295,321.47 290.5,321.47 290.5,324.2 288,324.2" fill="#008000"/>
</g>
<line x1="57" y1="241.5" x2="57" y2="440.5" stroke="#2a2a2a" stroke-width="1.3" />
<line x1="342" y1="241.5" x2="342" y2="440.5" stroke="#2a2a2a" stroke-width="1.3" />
<line x1="56.4" y1="440.5" x2="342.6" y2="440.5" stroke="#000" stroke-width="1.2" />
<line x1="56.4" y1="241.5" x2="342.6" y2="241.5" stroke="#000" stroke-width="1.2" />
<line x1="205.7" y1="440.6" x2="205.7" y2="446.1" stroke="#000" stroke-width="1.2" />
<line x1="205.7" y1="241.5" x2="205.7" y2="246.5" stroke="#000" stroke-width="1.2" />
<line x1="291.49" y1="440.6" x2="291.49" y2="446.1" stroke="#000" stroke-width="1.2" />
<line x1="291.49" y1="241.5" x2="291.49" y2="246.5" stroke="#000" stroke-width="1.2" />
<line x1="341.68" y1="440.6" x2="341.68" y2="446.1" stroke="#000" stroke-width="1.2" />
<line x1="341.68" y1="241.5" x2="341.68" y2="246.5" stroke="#000" stroke-width="1.2" />
<line x1="191.12" y1="440.6" x2="191.12" y2="443.8" stroke="#000" stroke-width="1.2" />
<line x1="191.12" y1="241.5" x2="191.12" y2="244.7" stroke="#000" stroke-width="1.2" />
<line x1="174.59" y1="440.6" x2="174.59" y2="443.8" stroke="#000" stroke-width="1.2" />
<line x1="174.59" y1="241.5" x2="174.59" y2="244.7" stroke="#000" stroke-width="1.2" />
<line x1="155.51" y1="440.6" x2="155.51" y2="443.8" stroke="#000" stroke-width="1.2" />
<line x1="155.51" y1="241.5" x2="155.51" y2="244.7" stroke="#000" stroke-width="1.2" />
<line x1="132.95" y1="440.6" x2="132.95" y2="443.8" stroke="#000" stroke-width="1.2" />
<line x1="132.95" y1="241.5" x2="132.95" y2="244.7" stroke="#000" stroke-width="1.2" />
<line x1="105.33" y1="440.6" x2="105.33" y2="443.8" stroke="#000" stroke-width="1.2" />
<line x1="105.33" y1="241.5" x2="105.33" y2="244.7" stroke="#000" stroke-width="1.2" />
<line x1="69.72" y1="440.6" x2="69.72" y2="443.8" stroke="#000" stroke-width="1.2" />
<line x1="69.72" y1="241.5" x2="69.72" y2="244.7" stroke="#000" stroke-width="1.2" />
<line x1="218.74" y1="440.6" x2="218.74" y2="443.8" stroke="#000" stroke-width="1.2" />
<line x1="218.74" y1="241.5" x2="218.74" y2="244.7" stroke="#000" stroke-width="1.2" />
<line x1="230.54" y1="440.6" x2="230.54" y2="443.8" stroke="#000" stroke-width="1.2" />
<line x1="230.54" y1="241.5" x2="230.54" y2="244.7" stroke="#000" stroke-width="1.2" />
<line x1="241.31" y1="440.6" x2="241.31" y2="443.8" stroke="#000" stroke-width="1.2" />
<line x1="241.31" y1="241.5" x2="241.31" y2="244.7" stroke="#000" stroke-width="1.2" />
<line x1="251.21" y1="440.6" x2="251.21" y2="443.8" stroke="#000" stroke-width="1.2" />
<line x1="251.21" y1="241.5" x2="251.21" y2="244.7" stroke="#000" stroke-width="1.2" />
<line x1="260.39" y1="440.6" x2="260.39" y2="443.8" stroke="#000" stroke-width="1.2" />
<line x1="260.39" y1="241.5" x2="260.39" y2="244.7" stroke="#000" stroke-width="1.2" />
<line x1="268.93" y1="440.6" x2="268.93" y2="443.8" stroke="#000" stroke-width="1.2" />
<line x1="268.93" y1="241.5" x2="268.93" y2="244.7" stroke="#000" stroke-width="1.2" />
<line x1="276.92" y1="440.6" x2="276.92" y2="443.8" stroke="#000" stroke-width="1.2" />
<line x1="276.92" y1="241.5" x2="276.92" y2="244.7" stroke="#000" stroke-width="1.2" />
<line x1="284.42" y1="440.6" x2="284.42" y2="443.8" stroke="#000" stroke-width="1.2" />
<line x1="284.42" y1="241.5" x2="284.42" y2="244.7" stroke="#000" stroke-width="1.2" />
<line x1="298.19" y1="440.6" x2="298.19" y2="443.8" stroke="#000" stroke-width="1.2" />
<line x1="298.19" y1="241.5" x2="298.19" y2="244.7" stroke="#000" stroke-width="1.2" />
<line x1="304.53" y1="440.6" x2="304.53" y2="443.8" stroke="#000" stroke-width="1.2" />
<line x1="304.53" y1="241.5" x2="304.53" y2="244.7" stroke="#000" stroke-width="1.2" />
<line x1="310.57" y1="440.6" x2="310.57" y2="443.8" stroke="#000" stroke-width="1.2" />
<line x1="310.57" y1="241.5" x2="310.57" y2="244.7" stroke="#000" stroke-width="1.2" />
<line x1="316.33" y1="440.6" x2="316.33" y2="443.8" stroke="#000" stroke-width="1.2" />
<line x1="316.33" y1="241.5" x2="316.33" y2="244.7" stroke="#000" stroke-width="1.2" />
<line x1="321.83" y1="440.6" x2="321.83" y2="443.8" stroke="#000" stroke-width="1.2" />
<line x1="321.83" y1="241.5" x2="321.83" y2="244.7" stroke="#000" stroke-width="1.2" />
<line x1="327.1" y1="440.6" x2="327.1" y2="443.8" stroke="#000" stroke-width="1.2" />
<line x1="327.1" y1="241.5" x2="327.1" y2="244.7" stroke="#000" stroke-width="1.2" />
<line x1="332.15" y1="440.6" x2="332.15" y2="443.8" stroke="#000" stroke-width="1.2" />
<line x1="332.15" y1="241.5" x2="332.15" y2="244.7" stroke="#000" stroke-width="1.2" />
<line x1="337.01" y1="440.6" x2="337.01" y2="443.8" stroke="#000" stroke-width="1.2" />
<line x1="337.01" y1="241.5" x2="337.01" y2="244.7" stroke="#000" stroke-width="1.2" />
<line x1="51" y1="251.4" x2="56.8" y2="251.4" stroke="#000" stroke-width="1.2" />
<line x1="336.5" y1="251.4" x2="342" y2="251.4" stroke="#000" stroke-width="1.2" />
<line x1="51" y1="346.1" x2="56.8" y2="346.1" stroke="#000" stroke-width="1.2" />
<line x1="336.5" y1="346.1" x2="342" y2="346.1" stroke="#000" stroke-width="1.2" />
<line x1="51" y1="440.8" x2="56.8" y2="440.8" stroke="#000" stroke-width="1.2" />
<line x1="336.5" y1="440.8" x2="342" y2="440.8" stroke="#000" stroke-width="1.2" />
<line x1="53.4" y1="412.29" x2="56.8" y2="412.29" stroke="#000" stroke-width="1.2" />
<line x1="338.6" y1="412.29" x2="342" y2="412.29" stroke="#000" stroke-width="1.2" />
<line x1="53.4" y1="395.62" x2="56.8" y2="395.62" stroke="#000" stroke-width="1.2" />
<line x1="338.6" y1="395.62" x2="342" y2="395.62" stroke="#000" stroke-width="1.2" />
<line x1="53.4" y1="383.78" x2="56.8" y2="383.78" stroke="#000" stroke-width="1.2" />
<line x1="338.6" y1="383.78" x2="342" y2="383.78" stroke="#000" stroke-width="1.2" />
<line x1="53.4" y1="374.61" x2="56.8" y2="374.61" stroke="#000" stroke-width="1.2" />
<line x1="338.6" y1="374.61" x2="342" y2="374.61" stroke="#000" stroke-width="1.2" />
<line x1="53.4" y1="367.11" x2="56.8" y2="367.11" stroke="#000" stroke-width="1.2" />
<line x1="338.6" y1="367.11" x2="342" y2="367.11" stroke="#000" stroke-width="1.2" />
<line x1="53.4" y1="360.77" x2="56.8" y2="360.77" stroke="#000" stroke-width="1.2" />
<line x1="338.6" y1="360.77" x2="342" y2="360.77" stroke="#000" stroke-width="1.2" />
<line x1="53.4" y1="355.28" x2="56.8" y2="355.28" stroke="#000" stroke-width="1.2" />
<line x1="338.6" y1="355.28" x2="342" y2="355.28" stroke="#000" stroke-width="1.2" />
<line x1="53.4" y1="350.43" x2="56.8" y2="350.43" stroke="#000" stroke-width="1.2" />
<line x1="338.6" y1="350.43" x2="342" y2="350.43" stroke="#000" stroke-width="1.2" />
<line x1="53.4" y1="317.59" x2="56.8" y2="317.59" stroke="#000" stroke-width="1.2" />
<line x1="338.6" y1="317.59" x2="342" y2="317.59" stroke="#000" stroke-width="1.2" />
<line x1="53.4" y1="300.92" x2="56.8" y2="300.92" stroke="#000" stroke-width="1.2" />
<line x1="338.6" y1="300.92" x2="342" y2="300.92" stroke="#000" stroke-width="1.2" />
<line x1="53.4" y1="289.08" x2="56.8" y2="289.08" stroke="#000" stroke-width="1.2" />
<line x1="338.6" y1="289.08" x2="342" y2="289.08" stroke="#000" stroke-width="1.2" />
<line x1="53.4" y1="279.91" x2="56.8" y2="279.91" stroke="#000" stroke-width="1.2" />
<line x1="338.6" y1="279.91" x2="342" y2="279.91" stroke="#000" stroke-width="1.2" />
<line x1="53.4" y1="272.41" x2="56.8" y2="272.41" stroke="#000" stroke-width="1.2" />
<line x1="338.6" y1="272.41" x2="342" y2="272.41" stroke="#000" stroke-width="1.2" />
<line x1="53.4" y1="266.07" x2="56.8" y2="266.07" stroke="#000" stroke-width="1.2" />
<line x1="338.6" y1="266.07" x2="342" y2="266.07" stroke="#000" stroke-width="1.2" />
<line x1="53.4" y1="260.58" x2="56.8" y2="260.58" stroke="#000" stroke-width="1.2" />
<line x1="338.6" y1="260.58" x2="342" y2="260.58" stroke="#000" stroke-width="1.2" />
<line x1="53.4" y1="255.73" x2="56.8" y2="255.73" stroke="#000" stroke-width="1.2" />
<line x1="338.6" y1="255.73" x2="342" y2="255.73" stroke="#000" stroke-width="1.2" />
<text x="205.7" y="459.4" font-family="&quot;Liberation Sans&quot;, sans-serif" font-size="12.0" font-weight="normal" text-anchor="middle">0.1</text>
<text x="291.49" y="459.4" font-family="&quot;Liberation Sans&quot;, sans-serif" font-size="12.0" font-weight="normal" text-anchor="middle">0.2</text>
<text x="341.68" y="459.4" font-family="&quot;Liberation Sans&quot;, sans-serif" font-size="12.0" font-weight="normal" text-anchor="middle">0.3</text>
<text x="47.2" y="254.8" font-family="&quot;Liberation Sans&quot;, sans-serif" font-size="12.0" font-weight="normal" text-anchor="end">10</text>
<text x="47.2" y="349.5" font-family="&quot;Liberation Sans&quot;, sans-serif" font-size="12.0" font-weight="normal" text-anchor="end">1</text>
<text x="47.2" y="444.2" font-family="&quot;Liberation Sans&quot;, sans-serif" font-size="12.0" font-weight="normal" text-anchor="end">0.1</text>
<text x="70.40" y="265.00" font-family="&quot;Liberation Sans&quot;, sans-serif" font-size="17" font-weight="bold" fill="#000" style="white-space:pre">(B)</text>
<line x1="77" y1="294.3" x2="86.5" y2="294.3" stroke="#808000" stroke-width="1.8" />
<line x1="96.5" y1="294.3" x2="105.7" y2="294.3" stroke="#808000" stroke-width="1.8" />
<polygon points="91.5,288.1 96.8,294.3 91.5,300.5 86.2,294.3" fill="#fff" stroke="#808000" stroke-width="1.0"/>
<text x="108.03" y="298.80" font-family="&quot;Liberation Sans&quot;, sans-serif" font-size="11.3" font-weight="bold" fill="#000" style="white-space:pre" textLength="9.88" lengthAdjust="spacingAndGlyphs">M</text><text x="117.76" y="298.80" font-family="&quot;Liberation Sans&quot;, sans-serif" font-size="11.6" font-weight="normal" fill="#000" style="white-space:pre" textLength="14.59" lengthAdjust="spacingAndGlyphs">=0</text>
<line x1="77.4" y1="309.7" x2="86.2" y2="309.7" stroke="#0000ff" stroke-width="1.3" />
<line x1="96.5" y1="309.7" x2="105.1" y2="309.7" stroke="#0000ff" stroke-width="1.3" />
<polygon points="86.9,307.1 95.9,307.1 91.4,314.9" fill="#0000ff"/>
<text x="108.03" y="314.20" font-family="&quot;Liberation Sans&quot;, sans-serif" font-size="11.3" font-weight="bold" fill="#000" style="white-space:pre" textLength="9.88" lengthAdjust="spacingAndGlyphs">M</text><text x="117.41" y="318.80" font-family="&quot;Liberation Sans&quot;, sans-serif" font-size="7.4" font-weight="normal" fill="#000" style="white-space:pre;stroke-width:0.16px" textLength="14.36" lengthAdjust="spacingAndGlyphs">max</text><text x="131.42" y="314.20" font-family="&quot;Liberation Sans&quot;, sans-serif" font-size="11.6" font-weight="normal" fill="#000" style="white-space:pre" textLength="22.98" lengthAdjust="spacingAndGlyphs">=2.0</text><text x="154.55" y="314.20" font-family="&quot;Liberation Sans&quot;, sans-serif" font-size="10.0" font-weight="normal" fill="#000" style="white-space:pre" textLength="6.38" lengthAdjust="spacingAndGlyphs">Λ</text><text x="161.41" y="319.10" font-family="&quot;Liberation Sans&quot;, sans-serif" font-size="7.4" font-weight="normal" fill="#000" style="white-space:pre;stroke-width:0.16px" textLength="6.57" lengthAdjust="spacingAndGlyphs">hi</text>
<line x1="77.4" y1="329" x2="105.1" y2="329" stroke="#ff0000" stroke-width="1.3" />
<polygon points="91.3,324.1 95.8,329 91.3,333.9 86.8,329" fill="#ff0000"/>
<text x="108.03" y="333.50" font-family="&quot;Liberation Sans&quot;, sans-serif" font-size="11.3" font-weight="bold" fill="#000" style="white-space:pre" textLength="9.88" lengthAdjust="spacingAndGlyphs">M</text><text x="117.41" y="338.10" font-family="&quot;Liberation Sans&quot;, sans-serif" font-size="7.4" font-weight="normal" fill="#000" style="white-space:pre;stroke-width:0.16px" textLength="14.36" lengthAdjust="spacingAndGlyphs">max</text><text x="131.42" y="333.50" font-family="&quot;Liberation Sans&quot;, sans-serif" font-size="11.6" font-weight="normal" fill="#000" style="white-space:pre" textLength="22.98" lengthAdjust="spacingAndGlyphs">=1.0</text><text x="154.55" y="333.50" font-family="&quot;Liberation Sans&quot;, sans-serif" font-size="10.0" font-weight="normal" fill="#000" style="white-space:pre" textLength="6.38" lengthAdjust="spacingAndGlyphs">Λ</text><text x="161.41" y="338.40" font-family="&quot;Liberation Sans&quot;, sans-serif" font-size="7.4" font-weight="normal" fill="#000" style="white-space:pre;stroke-width:0.16px" textLength="6.57" lengthAdjust="spacingAndGlyphs">hi</text>
<line x1="77.4" y1="348.1" x2="86.4" y2="348.1" stroke="#008000" stroke-width="1.3" />
<line x1="96.7" y1="348.1" x2="105.1" y2="348.1" stroke="#008000" stroke-width="1.3" />
<rect x="88" y="344.6" width="7" height="7" fill="#008000"/>
<text x="108.03" y="352.60" font-family="&quot;Liberation Sans&quot;, sans-serif" font-size="11.3" font-weight="bold" fill="#000" style="white-space:pre" textLength="9.88" lengthAdjust="spacingAndGlyphs">M</text><text x="117.41" y="357.20" font-family="&quot;Liberation Sans&quot;, sans-serif" font-size="7.4" font-weight="normal" fill="#000" style="white-space:pre;stroke-width:0.16px" textLength="14.36" lengthAdjust="spacingAndGlyphs">max</text><text x="131.42" y="352.60" font-family="&quot;Liberation Sans&quot;, sans-serif" font-size="11.6" font-weight="normal" fill="#000" style="white-space:pre" textLength="23.04" lengthAdjust="spacingAndGlyphs">=0.6</text><text x="154.55" y="352.60" font-family="&quot;Liberation Sans&quot;, sans-serif" font-size="10.0" font-weight="normal" fill="#000" style="white-space:pre" textLength="6.38" lengthAdjust="spacingAndGlyphs">Λ</text><text x="161.41" y="357.50" font-family="&quot;Liberation Sans&quot;, sans-serif" font-size="7.4" font-weight="normal" fill="#000" style="white-space:pre;stroke-width:0.16px" textLength="6.57" lengthAdjust="spacingAndGlyphs">hi</text>
<rect x="212.1" y="249.3" width="108.9" height="41.5" fill="#000"/>
<rect x="208.1" y="245.1" width="108.9" height="41.5" fill="#fff" stroke="#333" stroke-width="0.9"/>
<text x="214.15" y="259.80" font-family="&quot;Liberation Sans&quot;, sans-serif" font-size="12.6" font-weight="normal" fill="#000" style="white-space:pre" textLength="7.13" lengthAdjust="spacingAndGlyphs">V</text><text x="222.18" y="264.00" font-family="&quot;Liberation Sans&quot;, sans-serif" font-size="7.8" font-weight="normal" fill="#000" style="white-space:pre;stroke-width:0.16px" textLength="15.69" lengthAdjust="spacingAndGlyphs">inter</text><text x="236.05" y="259.80" font-family="&quot;Liberation Sans&quot;, sans-serif" font-size="12.6" font-weight="normal" fill="#000" style="white-space:pre" textLength="29.07" lengthAdjust="spacingAndGlyphs">=2.0,</text><text x="267.65" y="259.80" font-family="&quot;Liberation Sans&quot;, sans-serif" font-size="12.6" font-weight="normal" fill="#000" style="white-space:pre" textLength="6.72" lengthAdjust="spacingAndGlyphs">V</text><text x="274.41" y="264.00" font-family="&quot;Liberation Sans&quot;, sans-serif" font-size="7.8" font-weight="normal" fill="#000" style="white-space:pre;stroke-width:0.16px" textLength="14.69" lengthAdjust="spacingAndGlyphs">intra</text><text x="288.99" y="259.80" font-family="&quot;Liberation Sans&quot;, sans-serif" font-size="12.6" font-weight="normal" fill="#000" style="white-space:pre" textLength="24.19" lengthAdjust="spacingAndGlyphs">=0.5</text>
<text x="214.13" y="279.10" font-family="&quot;Liberation Serif&quot;, serif" font-size="10.8" font-weight="normal" fill="#000" style="white-space:pre" textLength="7.18" lengthAdjust="spacingAndGlyphs">Γ</text><text x="220.66" y="283.30" font-family="&quot;Liberation Sans&quot;, sans-serif" font-size="6.8" font-weight="normal" fill="#000" style="white-space:pre;stroke-width:0.16px" textLength="3.36" lengthAdjust="spacingAndGlyphs">0</text><text x="223.88" y="279.10" font-family="&quot;Liberation Sans&quot;, sans-serif" font-size="12.6" font-weight="normal" fill="#000" style="white-space:pre" textLength="35.02" lengthAdjust="spacingAndGlyphs">=0.10,</text><text x="265.00" y="279.10" font-family="&quot;Liberation Serif&quot;, serif" font-size="10.8" font-weight="normal" fill="#000" style="white-space:pre" textLength="5.84" lengthAdjust="spacingAndGlyphs">Γ</text><text x="271.62" y="282.70" font-family="&quot;Liberation Serif&quot;, serif" font-size="6.0" font-weight="normal" fill="#000" style="white-space:pre;stroke-width:0.16px" textLength="2.76" lengthAdjust="spacingAndGlyphs">π</text><text x="274.67" y="279.10" font-family="&quot;Liberation Sans&quot;, sans-serif" font-size="12.6" font-weight="normal" fill="#000" style="white-space:pre" textLength="31.73" lengthAdjust="spacingAndGlyphs">=0.05</text>
<text x="75.15" y="394.70" font-family="&quot;Liberation Sans&quot;, sans-serif" font-size="20.2" font-weight="normal" fill="#000" style="white-space:pre;stroke-width:0.08px" textLength="10.72" lengthAdjust="spacingAndGlyphs">T</text>
<text x="86.80" y="402.70" font-family="&quot;Liberation Sans&quot;, sans-serif" font-size="13.5" font-weight="normal" fill="#000" style="white-space:pre">c</text>
<text x="92.00" y="384.50" font-family="&quot;Liberation Sans&quot;, sans-serif" font-size="12.5" font-weight="normal" fill="#000" style="white-space:pre">2</text>
<line x1="101.1" y1="408" x2="124.5" y2="411.1" stroke="#000" stroke-width="1.3" />
<polygon points="131.5,412.1 123.6,408.0 122.8,413.9" fill="#000"/>
<text x="168.06" y="474.80" font-family="&quot;Liberation Sans&quot;, sans-serif" font-size="17.5" font-weight="normal" fill="#000" style="white-space:pre;stroke-width:0.08px" textLength="10.29" lengthAdjust="spacingAndGlyphs">T</text><text x="178.36" y="480.80" font-family="&quot;Liberation Sans&quot;, sans-serif" font-size="10.5" font-weight="normal" fill="#000" style="white-space:pre" textLength="5.52" lengthAdjust="spacingAndGlyphs">c</text><text x="183.40" y="474.80" font-family="&quot;Liberation Sans&quot;, sans-serif" font-size="17.5" font-weight="normal" fill="#000" style="white-space:pre;stroke-width:0.08px">/</text><text x="188.53" y="474.80" font-family="&quot;Liberation Sans&quot;, sans-serif" font-size="17.5" font-weight="normal" fill="#000" style="white-space:pre;stroke-width:0.08px" textLength="9.51" lengthAdjust="spacingAndGlyphs">Λ</text><text x="198.29" y="480.80" font-family="&quot;Liberation Sans&quot;, sans-serif" font-size="10.5" font-weight="normal" fill="#000" style="white-space:pre" textLength="9.00" lengthAdjust="spacingAndGlyphs">hi</text>
<g transform="translate(22.0,394) rotate(-90)">
<text x="0.56" y="0.00" font-family="&quot;Liberation Sans&quot;, sans-serif" font-size="15.5" font-weight="normal" fill="#000" style="white-space:pre;stroke-width:0.08px" textLength="9.86" lengthAdjust="spacingAndGlyphs">Δ</text><text x="10.25" y="0.00" font-family="&quot;Liberation Sans&quot;, sans-serif" font-size="19" font-weight="normal" fill="#000" style="white-space:pre;stroke-width:0.08px" textLength="13.76" lengthAdjust="spacingAndGlyphs">C</text><text x="28.70" y="0.00" font-family="&quot;Liberation Sans&quot;, sans-serif" font-size="19" font-weight="normal" fill="#000" style="white-space:pre;stroke-width:0.08px">/</text><text x="39.74" y="0.00" font-family="&quot;Liberation Sans&quot;, sans-serif" font-size="19" font-weight="normal" fill="#000" style="white-space:pre;stroke-width:0.08px" textLength="11.04" lengthAdjust="spacingAndGlyphs">T</text><text x="50.56" y="7.30" font-family="&quot;Liberation Sans&quot;, sans-serif" font-size="11.5" font-weight="normal" fill="#000" style="white-space:pre" textLength="5.52" lengthAdjust="spacingAndGlyphs">c</text><text x="60.69" y="0.00" font-family="&quot;Liberation Sans&quot;, sans-serif" font-size="19" font-weight="normal" fill="#000" style="white-space:pre;stroke-width:0.08px" textLength="6.16" lengthAdjust="spacingAndGlyphs">(</text><text x="66.19" y="0.00" font-family="&quot;Liberation Sans&quot;, sans-serif" font-size="19" font-weight="normal" fill="#000" style="white-space:pre;stroke-width:0.08px" textLength="15.48" lengthAdjust="spacingAndGlyphs">N</text><text x="80.33" y="7.30" font-family="&quot;Liberation Sans&quot;, sans-serif" font-size="10.5" font-weight="normal" fill="#000" style="white-space:pre" textLength="12.34" lengthAdjust="spacingAndGlyphs">tot</text><text x="92.52" y="0.00" font-family="&quot;Liberation Sans&quot;, sans-serif" font-size="19" font-weight="normal" fill="#000" style="white-space:pre;stroke-width:0.08px" textLength="5.53" lengthAdjust="spacingAndGlyphs">)</text>
</g>
</svg>
</body></html>
